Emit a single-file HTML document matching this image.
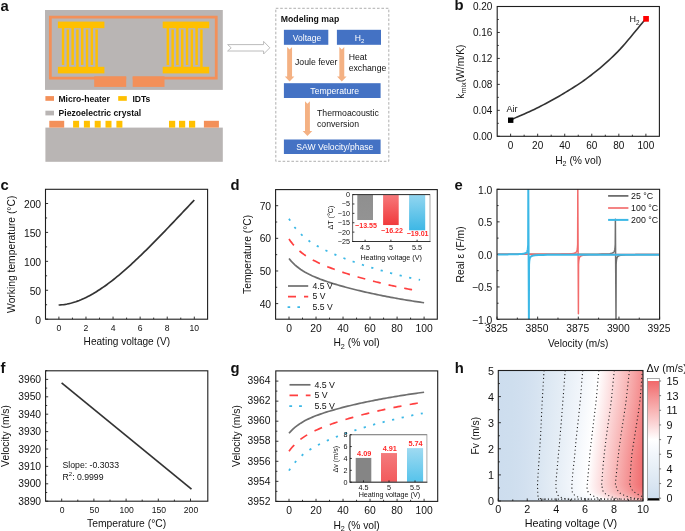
<!DOCTYPE html>
<html><head><meta charset="utf-8"><style>
html,body{margin:0;padding:0;background:#fff;}
body{width:685px;height:531px;overflow:hidden;}
svg{display:block;font-family:"Liberation Sans", sans-serif;}
svg{will-change:transform;}
</style></head><body>
<svg width="685" height="531" viewBox="0 0 685 531">
<rect width="685" height="531" fill="#fff"/>
<rect x="45" y="10" width="177.8" height="79.9" fill="#b9b5b4"/>
<path d="M126.2 78.2 L50.35 78.2 L50.35 17.2 L216.25 17.2 L216.25 78.2 L132.7 78.2" fill="none" stroke="#f39059" stroke-width="2.8"/>
<rect x="94.2" y="76.3" width="32" height="10.6" fill="#f39059"/>
<rect x="132.7" y="76.3" width="31.8" height="10.6" fill="#f39059"/>
<rect x="57.9" y="21.6" width="46.5" height="6.6" fill="#ffc000"/>
<rect x="57.9" y="66.8" width="46.5" height="6.6" fill="#ffc000"/>
<rect x="61.8" y="28" width="2.45" height="37" fill="#ffc000"/>
<rect x="66.6" y="29.5" width="2.45" height="37.5" fill="#ffc000"/>
<rect x="71.4" y="28" width="2.45" height="37" fill="#ffc000"/>
<rect x="76.2" y="29.5" width="2.45" height="37.5" fill="#ffc000"/>
<rect x="81" y="28" width="2.45" height="37" fill="#ffc000"/>
<rect x="85.8" y="29.5" width="2.45" height="37.5" fill="#ffc000"/>
<rect x="90.6" y="28" width="2.45" height="37" fill="#ffc000"/>
<rect x="95.4" y="29.5" width="2.45" height="37.5" fill="#ffc000"/>
<rect x="162.7" y="21.6" width="46.5" height="6.6" fill="#ffc000"/>
<rect x="162.7" y="66.8" width="46.5" height="6.6" fill="#ffc000"/>
<rect x="166.6" y="28" width="2.45" height="37" fill="#ffc000"/>
<rect x="171.4" y="29.5" width="2.45" height="37.5" fill="#ffc000"/>
<rect x="176.2" y="28" width="2.45" height="37" fill="#ffc000"/>
<rect x="181" y="29.5" width="2.45" height="37.5" fill="#ffc000"/>
<rect x="185.8" y="28" width="2.45" height="37" fill="#ffc000"/>
<rect x="190.6" y="29.5" width="2.45" height="37.5" fill="#ffc000"/>
<rect x="195.4" y="28" width="2.45" height="37" fill="#ffc000"/>
<rect x="200.2" y="29.5" width="2.45" height="37.5" fill="#ffc000"/>
<rect x="45.4" y="96.1" width="8.6" height="4.7" fill="#f39059"/>
<text x="58.4" y="101.5" font-size="8.6" text-anchor="start" font-weight="bold" fill="#111">Micro-heater</text>
<rect x="118.2" y="96.1" width="8.6" height="4.7" fill="#ffc000"/>
<text x="132.4" y="101.5" font-size="8.6" text-anchor="start" font-weight="bold" fill="#111">IDTs</text>
<rect x="45.4" y="110.7" width="8.6" height="4.7" fill="#b9b5b4"/>
<text x="58.6" y="116.2" font-size="8.6" text-anchor="start" font-weight="bold" fill="#111">Piezoelectric crystal</text>
<rect x="45.4" y="127.6" width="177.4" height="34.2" fill="#b9b5b4"/>
<rect x="49.3" y="120.8" width="14.9" height="6.8" fill="#f39059"/>
<rect x="203.9" y="120.8" width="15" height="6.8" fill="#f39059"/>
<rect x="73.1" y="120.8" width="6" height="6.8" fill="#ffc000"/>
<rect x="83.9" y="120.8" width="6" height="6.8" fill="#ffc000"/>
<rect x="94.7" y="120.8" width="6" height="6.8" fill="#ffc000"/>
<rect x="105.5" y="120.8" width="6" height="6.8" fill="#ffc000"/>
<rect x="116.4" y="120.8" width="6" height="6.8" fill="#ffc000"/>
<rect x="169" y="120.8" width="6.2" height="6.8" fill="#ffc000"/>
<rect x="179" y="120.8" width="6.2" height="6.8" fill="#ffc000"/>
<rect x="189" y="120.8" width="6.2" height="6.8" fill="#ffc000"/>
<path d="M227.6 44.6 L263.6 44.6 L263.6 41.4 L269.8 47.8 L263.6 54 L263.6 51 L227.6 51 L231.2 47.8 Z" fill="#fff" stroke="#b4b4b4" stroke-width="0.9"/>
<rect x="275.8" y="8.3" width="113" height="153" fill="none" stroke="#9a9a9a" stroke-width="0.8" stroke-dasharray="2.6 1.8"/>
<text x="280.8" y="21.7" font-size="8.7" text-anchor="start" font-weight="bold" fill="#111">Modeling map</text>
<rect x="283.9" y="29.8" width="44.4" height="15" fill="#4472c4"/>
<rect x="336.9" y="29.8" width="44.1" height="15" fill="#4472c4"/>
<rect x="283.9" y="83.2" width="96.7" height="14.8" fill="#4472c4"/>
<rect x="283.9" y="139.5" width="96.7" height="14.5" fill="#4472c4"/>
<text x="307" y="41" font-size="8.5" text-anchor="middle" fill="#fff">Voltage</text>
<text x="359.5" y="41" font-size="8.6" text-anchor="middle" fill="#fff">H<tspan font-size="6" dy="2">2</tspan></text>
<text x="334.7" y="94.2" font-size="8.7" text-anchor="middle" fill="#fff">Temperature</text>
<text x="334.8" y="150.3" font-size="8.6" text-anchor="middle" fill="#fff">SAW Velocity/phase</text>
<path d="M287.15 47 L289.6 49.6 L292.05 47 L292.05 76.6 L294.4 76.6 L289.6 81.6 L284.8 76.6 L287.15 76.6 L287.15 47 Z" fill="#f4b183"/>
<path d="M339.35 47 L341.8 49.6 L344.25 47 L344.25 76.6 L346.6 76.6 L341.8 81.6 L337 76.6 L339.35 76.6 L339.35 47 Z" fill="#f4b183"/>
<path d="M305 101.2 L307.45 103.8 L309.9 101.2 L309.9 131 L312.25 131 L307.45 136 L302.65 131 L305 131 L305 101.2 Z" fill="#f4b183"/>
<text x="295" y="65" font-size="8.7" text-anchor="start" fill="#111">Joule fever</text>
<text x="348.7" y="59.8" font-size="8.7" text-anchor="start" fill="#111">Heat</text>
<text x="348.7" y="70.6" font-size="8.7" text-anchor="start" fill="#111">exchange</text>
<text x="317" y="116.4" font-size="8.7" text-anchor="start" fill="#111">Thermoacoustic</text>
<text x="317" y="126.8" font-size="8.7" text-anchor="start" fill="#111">conversion</text>
<text x="0.5" y="10.7" font-size="14.8" text-anchor="start" font-weight="bold" fill="#111">a</text>
<text x="454.4" y="10.2" font-size="14.8" text-anchor="start" font-weight="bold" fill="#111">b</text>
<rect x="497.2" y="6.5" width="162.2" height="129.8" fill="none" stroke="#1e1e1e" stroke-width="1.1"/>
<line x1="510.6" y1="136.3" x2="510.6" y2="133.7" stroke="#1e1e1e" stroke-width="0.9"/>
<line x1="537.66" y1="136.3" x2="537.66" y2="133.7" stroke="#1e1e1e" stroke-width="0.9"/>
<line x1="564.72" y1="136.3" x2="564.72" y2="133.7" stroke="#1e1e1e" stroke-width="0.9"/>
<line x1="591.78" y1="136.3" x2="591.78" y2="133.7" stroke="#1e1e1e" stroke-width="0.9"/>
<line x1="618.84" y1="136.3" x2="618.84" y2="133.7" stroke="#1e1e1e" stroke-width="0.9"/>
<line x1="645.9" y1="136.3" x2="645.9" y2="133.7" stroke="#1e1e1e" stroke-width="0.9"/>
<line x1="524.13" y1="136.3" x2="524.13" y2="134.7" stroke="#1e1e1e" stroke-width="0.9"/>
<line x1="551.19" y1="136.3" x2="551.19" y2="134.7" stroke="#1e1e1e" stroke-width="0.9"/>
<line x1="578.25" y1="136.3" x2="578.25" y2="134.7" stroke="#1e1e1e" stroke-width="0.9"/>
<line x1="605.31" y1="136.3" x2="605.31" y2="134.7" stroke="#1e1e1e" stroke-width="0.9"/>
<line x1="632.37" y1="136.3" x2="632.37" y2="134.7" stroke="#1e1e1e" stroke-width="0.9"/>
<line x1="497.2" y1="136.3" x2="499.8" y2="136.3" stroke="#1e1e1e" stroke-width="0.9"/>
<line x1="497.2" y1="110.34" x2="499.8" y2="110.34" stroke="#1e1e1e" stroke-width="0.9"/>
<line x1="497.2" y1="84.38" x2="499.8" y2="84.38" stroke="#1e1e1e" stroke-width="0.9"/>
<line x1="497.2" y1="58.42" x2="499.8" y2="58.42" stroke="#1e1e1e" stroke-width="0.9"/>
<line x1="497.2" y1="32.46" x2="499.8" y2="32.46" stroke="#1e1e1e" stroke-width="0.9"/>
<line x1="497.2" y1="6.5" x2="499.8" y2="6.5" stroke="#1e1e1e" stroke-width="0.9"/>
<line x1="497.2" y1="123.32" x2="498.8" y2="123.32" stroke="#1e1e1e" stroke-width="0.9"/>
<line x1="497.2" y1="97.36" x2="498.8" y2="97.36" stroke="#1e1e1e" stroke-width="0.9"/>
<line x1="497.2" y1="71.4" x2="498.8" y2="71.4" stroke="#1e1e1e" stroke-width="0.9"/>
<line x1="497.2" y1="45.44" x2="498.8" y2="45.44" stroke="#1e1e1e" stroke-width="0.9"/>
<line x1="497.2" y1="19.48" x2="498.8" y2="19.48" stroke="#1e1e1e" stroke-width="0.9"/>
<text x="492.4" y="139.8" font-size="10" text-anchor="end" fill="#111">0.00</text>
<text x="492.4" y="113.84" font-size="10" text-anchor="end" fill="#111">0.04</text>
<text x="492.4" y="87.88" font-size="10" text-anchor="end" fill="#111">0.08</text>
<text x="492.4" y="61.92" font-size="10" text-anchor="end" fill="#111">0.12</text>
<text x="492.4" y="35.96" font-size="10" text-anchor="end" fill="#111">0.16</text>
<text x="492.4" y="10" font-size="10" text-anchor="end" fill="#111">0.20</text>
<text x="510.6" y="148.6" font-size="10" text-anchor="middle" fill="#111">0</text>
<text x="537.66" y="148.6" font-size="10" text-anchor="middle" fill="#111">20</text>
<text x="564.72" y="148.6" font-size="10" text-anchor="middle" fill="#111">40</text>
<text x="591.78" y="148.6" font-size="10" text-anchor="middle" fill="#111">60</text>
<text x="618.84" y="148.6" font-size="10" text-anchor="middle" fill="#111">80</text>
<text x="645.9" y="148.6" font-size="10" text-anchor="middle" fill="#111">100</text>
<text x="578.3" y="164" font-size="10.3" text-anchor="middle" fill="#111">H<tspan font-size="7.2" dy="2.3">2</tspan><tspan dy="-2.3"> (% vol)</tspan></text>
<text x="463.6" y="71.6" font-size="10.3" text-anchor="middle" fill="#111" transform="rotate(-90 463.6 71.6)">k<tspan font-size="7.2" dy="2.3">mix</tspan><tspan dy="-2.3">(W/m/K)</tspan></text>
<path d="M510.6 119.9 L511.85 119.35 L513.4 118.68 L515.23 117.89 L517.27 117.01 L519.49 116.05 L521.86 115.03 L524.31 113.95 L526.82 112.83 L529.33 111.7 L531.81 110.55 L534.22 109.42 L536.5 108.3 L538.72 107.19 L540.95 106.06 L543.19 104.9 L545.44 103.72 L547.71 102.52 L549.97 101.3 L552.25 100.06 L554.52 98.79 L556.8 97.5 L559.07 96.19 L561.34 94.86 L563.6 93.5 L565.86 92.13 L568.12 90.75 L570.38 89.36 L572.63 87.96 L574.89 86.53 L577.15 85.07 L579.41 83.58 L581.67 82.06 L583.93 80.49 L586.18 78.88 L588.44 77.22 L590.7 75.5 L592.96 73.74 L595.22 71.95 L597.47 70.13 L599.73 68.27 L601.99 66.37 L604.24 64.42 L606.5 62.43 L608.76 60.39 L611.02 58.28 L613.28 56.12 L615.54 53.89 L617.8 51.6 L620.15 49.12 L622.64 46.37 L625.23 43.42 L627.87 40.35 L630.5 37.22 L633.09 34.11 L635.59 31.07 L637.94 28.2 L640.11 25.54 L642.04 23.18 L643.69 21.17 L645 19.6" fill="none" stroke="#333" stroke-width="1.6"/>
<rect x="508" y="117.5" width="5.4" height="5.4" fill="#000"/>
<rect x="643.2" y="16" width="5.7" height="5.7" fill="#ff0000"/>
<text x="506.6" y="112.2" font-size="9" text-anchor="start" fill="#111">Air</text>
<text x="629.6" y="22.1" font-size="9" text-anchor="start" fill="#111">H<tspan font-size="6.3" dy="2.7">2</tspan></text>
<text x="0.5" y="190" font-size="14.8" text-anchor="start" font-weight="bold" fill="#111">c</text>
<rect x="45.5" y="189.3" width="162.1" height="129.9" fill="none" stroke="#1e1e1e" stroke-width="1.1"/>
<line x1="58.9" y1="319.2" x2="58.9" y2="316.6" stroke="#1e1e1e" stroke-width="0.9"/>
<line x1="85.98" y1="319.2" x2="85.98" y2="316.6" stroke="#1e1e1e" stroke-width="0.9"/>
<line x1="113.06" y1="319.2" x2="113.06" y2="316.6" stroke="#1e1e1e" stroke-width="0.9"/>
<line x1="140.14" y1="319.2" x2="140.14" y2="316.6" stroke="#1e1e1e" stroke-width="0.9"/>
<line x1="167.22" y1="319.2" x2="167.22" y2="316.6" stroke="#1e1e1e" stroke-width="0.9"/>
<line x1="194.3" y1="319.2" x2="194.3" y2="316.6" stroke="#1e1e1e" stroke-width="0.9"/>
<line x1="72.44" y1="319.2" x2="72.44" y2="317.6" stroke="#1e1e1e" stroke-width="0.9"/>
<line x1="99.52" y1="319.2" x2="99.52" y2="317.6" stroke="#1e1e1e" stroke-width="0.9"/>
<line x1="126.6" y1="319.2" x2="126.6" y2="317.6" stroke="#1e1e1e" stroke-width="0.9"/>
<line x1="153.68" y1="319.2" x2="153.68" y2="317.6" stroke="#1e1e1e" stroke-width="0.9"/>
<line x1="180.76" y1="319.2" x2="180.76" y2="317.6" stroke="#1e1e1e" stroke-width="0.9"/>
<line x1="45.5" y1="319.2" x2="48.1" y2="319.2" stroke="#1e1e1e" stroke-width="0.9"/>
<line x1="45.5" y1="290.27" x2="48.1" y2="290.27" stroke="#1e1e1e" stroke-width="0.9"/>
<line x1="45.5" y1="261.35" x2="48.1" y2="261.35" stroke="#1e1e1e" stroke-width="0.9"/>
<line x1="45.5" y1="232.42" x2="48.1" y2="232.42" stroke="#1e1e1e" stroke-width="0.9"/>
<line x1="45.5" y1="203.5" x2="48.1" y2="203.5" stroke="#1e1e1e" stroke-width="0.9"/>
<line x1="45.5" y1="304.74" x2="47.1" y2="304.74" stroke="#1e1e1e" stroke-width="0.9"/>
<line x1="45.5" y1="275.81" x2="47.1" y2="275.81" stroke="#1e1e1e" stroke-width="0.9"/>
<line x1="45.5" y1="246.89" x2="47.1" y2="246.89" stroke="#1e1e1e" stroke-width="0.9"/>
<line x1="45.5" y1="217.96" x2="47.1" y2="217.96" stroke="#1e1e1e" stroke-width="0.9"/>
<text x="41.1" y="323.5" font-size="10.3" text-anchor="end" fill="#111">0</text>
<text x="41.1" y="294.57" font-size="10.3" text-anchor="end" fill="#111">50</text>
<text x="41.1" y="265.65" font-size="10.3" text-anchor="end" fill="#111">100</text>
<text x="41.1" y="236.72" font-size="10.3" text-anchor="end" fill="#111">150</text>
<text x="41.1" y="207.8" font-size="10.3" text-anchor="end" fill="#111">200</text>
<text x="58.9" y="330.9" font-size="8.6" text-anchor="middle" fill="#111">0</text>
<text x="85.98" y="330.9" font-size="8.6" text-anchor="middle" fill="#111">2</text>
<text x="113.06" y="330.9" font-size="8.6" text-anchor="middle" fill="#111">4</text>
<text x="140.14" y="330.9" font-size="8.6" text-anchor="middle" fill="#111">6</text>
<text x="167.22" y="330.9" font-size="8.6" text-anchor="middle" fill="#111">8</text>
<text x="194.3" y="330.9" font-size="8.6" text-anchor="middle" fill="#111">10</text>
<text x="126.8" y="344.9" font-size="10.1" text-anchor="middle" fill="#111">Heating voltage (V)</text>
<text x="15.4" y="254.3" font-size="10.3" text-anchor="middle" fill="#111" transform="rotate(-90 15.4 254.3)">Working temperature (°C)</text>
<path d="M58.63 304.99 L60.35 304.91 L62.06 304.76 L63.78 304.56 L65.5 304.31 L67.22 304 L68.93 303.64 L70.65 303.23 L72.37 302.77 L74.09 302.25 L75.8 301.7 L77.52 301.09 L79.24 300.44 L80.95 299.75 L82.67 299.01 L84.39 298.23 L86.11 297.4 L87.82 296.54 L89.54 295.64 L91.26 294.7 L92.98 293.73 L94.69 292.71 L96.41 291.67 L98.13 290.59 L99.85 289.47 L101.56 288.32 L103.28 287.15 L105 285.94 L106.72 284.7 L108.43 283.43 L110.15 282.14 L111.87 280.82 L113.58 279.47 L115.3 278.1 L117.02 276.71 L118.74 275.29 L120.45 273.85 L122.17 272.38 L123.89 270.9 L125.61 269.4 L127.32 267.87 L129.04 266.33 L130.76 264.77 L132.48 263.19 L134.19 261.6 L135.91 259.99 L137.63 258.36 L139.34 256.73 L141.06 255.07 L142.78 253.41 L144.5 251.73 L146.21 250.04 L147.93 248.34 L149.65 246.62 L151.37 244.9 L153.08 243.17 L154.8 241.43 L156.52 239.68 L158.24 237.92 L159.95 236.16 L161.67 234.38 L163.39 232.61 L165.11 230.82 L166.82 229.03 L168.54 227.24 L170.26 225.44 L171.97 223.64 L173.69 221.83 L175.41 220.02 L177.13 218.21 L178.84 216.39 L180.56 214.58 L182.28 212.76 L184 210.94 L185.71 209.12 L187.43 207.3 L189.15 205.47 L190.87 203.65 L192.58 201.83 L194.3 200.01" fill="none" stroke="#333" stroke-width="1.7"/>
<text x="230.6" y="190.2" font-size="14.8" text-anchor="start" font-weight="bold" fill="#111">d</text>
<rect x="275.6" y="189.6" width="161.7" height="129.6" fill="none" stroke="#1e1e1e" stroke-width="1.1"/>
<line x1="289" y1="319.2" x2="289" y2="316.6" stroke="#1e1e1e" stroke-width="0.9"/>
<line x1="316.02" y1="319.2" x2="316.02" y2="316.6" stroke="#1e1e1e" stroke-width="0.9"/>
<line x1="343.04" y1="319.2" x2="343.04" y2="316.6" stroke="#1e1e1e" stroke-width="0.9"/>
<line x1="370.06" y1="319.2" x2="370.06" y2="316.6" stroke="#1e1e1e" stroke-width="0.9"/>
<line x1="397.08" y1="319.2" x2="397.08" y2="316.6" stroke="#1e1e1e" stroke-width="0.9"/>
<line x1="424.1" y1="319.2" x2="424.1" y2="316.6" stroke="#1e1e1e" stroke-width="0.9"/>
<line x1="302.51" y1="319.2" x2="302.51" y2="317.6" stroke="#1e1e1e" stroke-width="0.9"/>
<line x1="329.53" y1="319.2" x2="329.53" y2="317.6" stroke="#1e1e1e" stroke-width="0.9"/>
<line x1="356.55" y1="319.2" x2="356.55" y2="317.6" stroke="#1e1e1e" stroke-width="0.9"/>
<line x1="383.57" y1="319.2" x2="383.57" y2="317.6" stroke="#1e1e1e" stroke-width="0.9"/>
<line x1="410.59" y1="319.2" x2="410.59" y2="317.6" stroke="#1e1e1e" stroke-width="0.9"/>
<line x1="275.6" y1="303.6" x2="278.2" y2="303.6" stroke="#1e1e1e" stroke-width="0.9"/>
<line x1="275.6" y1="270.97" x2="278.2" y2="270.97" stroke="#1e1e1e" stroke-width="0.9"/>
<line x1="275.6" y1="238.33" x2="278.2" y2="238.33" stroke="#1e1e1e" stroke-width="0.9"/>
<line x1="275.6" y1="205.7" x2="278.2" y2="205.7" stroke="#1e1e1e" stroke-width="0.9"/>
<line x1="275.6" y1="287.28" x2="277.2" y2="287.28" stroke="#1e1e1e" stroke-width="0.9"/>
<line x1="275.6" y1="254.65" x2="277.2" y2="254.65" stroke="#1e1e1e" stroke-width="0.9"/>
<line x1="275.6" y1="222.02" x2="277.2" y2="222.02" stroke="#1e1e1e" stroke-width="0.9"/>
<text x="271.1" y="307.7" font-size="10.3" text-anchor="end" fill="#111">40</text>
<text x="271.1" y="275.07" font-size="10.3" text-anchor="end" fill="#111">50</text>
<text x="271.1" y="242.43" font-size="10.3" text-anchor="end" fill="#111">60</text>
<text x="271.1" y="209.8" font-size="10.3" text-anchor="end" fill="#111">70</text>
<text x="289" y="331.6" font-size="10.3" text-anchor="middle" fill="#111">0</text>
<text x="316.02" y="331.6" font-size="10.3" text-anchor="middle" fill="#111">20</text>
<text x="343.04" y="331.6" font-size="10.3" text-anchor="middle" fill="#111">40</text>
<text x="370.06" y="331.6" font-size="10.3" text-anchor="middle" fill="#111">60</text>
<text x="397.08" y="331.6" font-size="10.3" text-anchor="middle" fill="#111">80</text>
<text x="424.1" y="331.6" font-size="10.3" text-anchor="middle" fill="#111">100</text>
<text x="356.6" y="346.2" font-size="10.3" text-anchor="middle" fill="#111">H<tspan font-size="7.2" dy="2.3">2</tspan><tspan dy="-2.3"> (% vol)</tspan></text>
<text x="251.5" y="254.4" font-size="10.3" text-anchor="middle" fill="#111" transform="rotate(-90 251.5 254.4)">Temperature (°C)</text>
<path d="M289 258.57 L290.96 260.89 L292.92 262.96 L294.87 264.82 L296.83 266.5 L298.79 268.03 L300.75 269.43 L302.71 270.72 L304.66 271.9 L306.62 273.01 L308.58 274.04 L310.54 275.01 L312.5 275.93 L314.45 276.79 L316.41 277.62 L318.37 278.41 L320.33 279.17 L322.29 279.9 L324.24 280.6 L326.2 281.28 L328.16 281.94 L330.12 282.58 L332.08 283.21 L334.03 283.82 L335.99 284.41 L337.95 284.99 L339.91 285.56 L341.87 286.12 L343.82 286.66 L345.78 287.2 L347.74 287.72 L349.7 288.24 L351.66 288.74 L353.61 289.24 L355.57 289.73 L357.53 290.21 L359.49 290.68 L361.44 291.15 L363.4 291.6 L365.36 292.05 L367.32 292.5 L369.28 292.93 L371.23 293.36 L373.19 293.79 L375.15 294.2 L377.11 294.61 L379.07 295.02 L381.02 295.41 L382.98 295.8 L384.94 296.19 L386.9 296.57 L388.86 296.94 L390.81 297.31 L392.77 297.67 L394.73 298.03 L396.69 298.38 L398.65 298.73 L400.6 299.07 L402.56 299.41 L404.52 299.74 L406.48 300.06 L408.44 300.38 L410.39 300.7 L412.35 301.01 L414.31 301.32 L416.27 301.62 L418.23 301.92 L420.18 302.21 L422.14 302.5 L424.1 302.78" fill="none" stroke="#6e6e6e" stroke-width="1.7"/>
<path d="M289 238.99 L290.86 241.63 L292.72 244.01 L294.58 246.15 L296.44 248.1 L298.3 249.88 L300.16 251.51 L302.02 253.01 L303.88 254.4 L305.74 255.69 L307.6 256.9 L309.46 258.04 L311.32 259.12 L313.18 260.14 L315.04 261.11 L316.9 262.04 L318.76 262.93 L320.62 263.78 L322.48 264.61 L324.34 265.4 L326.2 266.18 L328.06 266.93 L329.92 267.66 L331.78 268.37 L333.64 269.07 L335.5 269.75 L337.36 270.41 L339.22 271.06 L341.08 271.7 L342.94 272.32 L344.8 272.94 L346.66 273.54 L348.52 274.13 L350.38 274.72 L352.24 275.29 L354.1 275.85 L355.96 276.4 L357.82 276.95 L359.68 277.49 L361.54 278.01 L363.4 278.53 L365.26 279.05 L367.12 279.55 L368.98 280.05 L370.84 280.54 L372.7 281.02 L374.56 281.5 L376.42 281.96 L378.28 282.43 L380.14 282.88 L382 283.33 L383.86 283.77 L385.72 284.21 L387.58 284.63 L389.44 285.06 L391.3 285.47 L393.16 285.89 L395.02 286.29 L396.88 286.69 L398.74 287.08 L400.6 287.47 L402.46 287.85 L404.32 288.23 L406.18 288.6 L408.04 288.97 L409.9 289.33 L411.76 289.68 L413.62 290.03 L415.48 290.38 L417.35 290.72" fill="none" stroke="#ff4040" stroke-width="1.7" stroke-dasharray="8 8"/>
<path d="M289 218.75 L290.9 221.92 L292.8 224.75 L294.7 227.31 L296.6 229.62 L298.5 231.73 L300.4 233.66 L302.29 235.43 L304.19 237.08 L306.09 238.61 L307.99 240.04 L309.89 241.39 L311.79 242.66 L313.69 243.86 L315.59 245.01 L317.49 246.1 L319.39 247.15 L321.29 248.16 L323.19 249.14 L325.09 250.08 L326.98 251 L328.88 251.88 L330.78 252.75 L332.68 253.59 L334.58 254.41 L336.48 255.22 L338.38 256 L340.28 256.77 L342.18 257.53 L344.08 258.27 L345.98 258.99 L347.88 259.71 L349.78 260.41 L351.67 261.1 L353.57 261.77 L355.47 262.44 L357.37 263.09 L359.27 263.74 L361.17 264.37 L363.07 265 L364.97 265.61 L366.87 266.22 L368.77 266.81 L370.67 267.4 L372.57 267.98 L374.47 268.55 L376.36 269.11 L378.26 269.66 L380.16 270.2 L382.06 270.74 L383.96 271.27 L385.86 271.79 L387.76 272.3 L389.66 272.81 L391.56 273.3 L393.46 273.8 L395.36 274.28 L397.26 274.76 L399.16 275.22 L401.05 275.69 L402.95 276.14 L404.85 276.59 L406.75 277.03 L408.65 277.47 L410.55 277.9 L412.45 278.32 L414.35 278.74 L416.25 279.15 L418.15 279.56 L420.05 279.96" fill="none" stroke="#3cb8e6" stroke-width="1.8" stroke-dasharray="2.2 7.6"/>
<line x1="288" y1="286" x2="308.2" y2="286" stroke="#6e6e6e" stroke-width="1.7"/>
<line x1="288" y1="296.6" x2="308.2" y2="296.6" stroke="#ff4040" stroke-width="1.7" stroke-dasharray="8 8"/>
<line x1="287.6" y1="307.2" x2="300" y2="307.2" stroke="#3cb8e6" stroke-width="1.8" stroke-dasharray="2.6 7.2"/>
<text x="312.6" y="288.6" font-size="8.6" text-anchor="start" fill="#111">4.5 V</text>
<text x="312.6" y="299.3" font-size="8.6" text-anchor="start" fill="#111">5 V</text>
<text x="312.6" y="309.9" font-size="8.6" text-anchor="start" fill="#111">5.5 V</text>
<defs><linearGradient id="gg" x1="0" y1="0" x2="0" y2="1"><stop offset="0" stop-color="#8f8f8f"/><stop offset="1" stop-color="#939393"/></linearGradient><linearGradient id="gr" x1="0" y1="0" x2="0" y2="1"><stop offset="0" stop-color="#f7797b"/><stop offset="1" stop-color="#f03a3c"/></linearGradient><linearGradient id="gb" x1="0" y1="0" x2="0" y2="1"><stop offset="0" stop-color="#93d6f0"/><stop offset="1" stop-color="#3db7e5"/></linearGradient><linearGradient id="gr2" x1="0" y1="0" x2="0" y2="1"><stop offset="0" stop-color="#f47a7c"/><stop offset="1" stop-color="#f25a5c"/></linearGradient><linearGradient id="gb2" x1="0" y1="0" x2="0" y2="1"><stop offset="0" stop-color="#9fdaf1"/><stop offset="1" stop-color="#55c3eb"/></linearGradient></defs>
<rect x="352.6" y="194.6" width="77.4" height="46.9" fill="#fff"/>
<rect x="357.3" y="194.6" width="15.7" height="25.42" fill="url(#gg)"/>
<rect x="383.1" y="194.6" width="15.6" height="30.43" fill="url(#gr)"/>
<rect x="409.1" y="194.6" width="16.1" height="35.66" fill="url(#gb)"/>
<rect x="352.6" y="194.6" width="77.4" height="46.9" fill="none" stroke="#a0a0a0" stroke-width="0.9"/>
<line x1="352.6" y1="194.6" x2="430" y2="194.6" stroke="#333" stroke-width="1"/>
<line x1="352.6" y1="194.6" x2="352.6" y2="241.5" stroke="#666" stroke-width="0.9"/>
<line x1="352.15" y1="241.5" x2="430.45" y2="241.5" stroke="#333" stroke-width="1"/>
<line x1="352.6" y1="194.6" x2="354.4" y2="194.6" stroke="#1e1e1e" stroke-width="0.9"/>
<line x1="352.6" y1="203.98" x2="354.4" y2="203.98" stroke="#1e1e1e" stroke-width="0.9"/>
<line x1="352.6" y1="213.36" x2="354.4" y2="213.36" stroke="#1e1e1e" stroke-width="0.9"/>
<line x1="352.6" y1="222.74" x2="354.4" y2="222.74" stroke="#1e1e1e" stroke-width="0.9"/>
<line x1="352.6" y1="232.12" x2="354.4" y2="232.12" stroke="#1e1e1e" stroke-width="0.9"/>
<line x1="352.6" y1="241.5" x2="354.4" y2="241.5" stroke="#1e1e1e" stroke-width="0.9"/>
<text x="349.9" y="197.1" font-size="7.2" text-anchor="end" fill="#111">0</text>
<text x="349.9" y="206.48" font-size="7.2" text-anchor="end" fill="#111">−5</text>
<text x="349.9" y="215.86" font-size="7.2" text-anchor="end" fill="#111">−10</text>
<text x="349.9" y="225.24" font-size="7.2" text-anchor="end" fill="#111">−15</text>
<text x="349.9" y="234.62" font-size="7.2" text-anchor="end" fill="#111">−20</text>
<text x="349.9" y="244" font-size="7.2" text-anchor="end" fill="#111">−25</text>
<line x1="365.1" y1="241.5" x2="365.1" y2="239.7" stroke="#1e1e1e" stroke-width="0.9"/>
<line x1="390.9" y1="241.5" x2="390.9" y2="239.7" stroke="#1e1e1e" stroke-width="0.9"/>
<line x1="417.1" y1="241.5" x2="417.1" y2="239.7" stroke="#1e1e1e" stroke-width="0.9"/>
<text x="365.1" y="249.8" font-size="7.2" text-anchor="middle" fill="#111">4.5</text>
<text x="390.9" y="249.8" font-size="7.2" text-anchor="middle" fill="#111">5</text>
<text x="417.1" y="249.8" font-size="7.2" text-anchor="middle" fill="#111">5.5</text>
<text x="391.2" y="259.6" font-size="7.2" text-anchor="middle" fill="#111">Heating voltage (V)</text>
<text x="333" y="217.5" font-size="7.2" text-anchor="middle" fill="#111" transform="rotate(-90 333 217.5)">ΔT (°C)</text>
<text x="366" y="227.6" font-size="7.1" text-anchor="middle" font-weight="bold" fill="#ff2a2a">−13.55</text>
<text x="392" y="232.7" font-size="7.1" text-anchor="middle" font-weight="bold" fill="#ff2a2a">−16.22</text>
<text x="417.6" y="236.4" font-size="7.1" text-anchor="middle" font-weight="bold" fill="#ff2a2a">−19.01</text>
<text x="454.4" y="190" font-size="14.8" text-anchor="start" font-weight="bold" fill="#111">e</text>
<line x1="497" y1="319.5" x2="499.6" y2="319.5" stroke="#1e1e1e" stroke-width="0.9"/>
<line x1="497" y1="286.95" x2="499.6" y2="286.95" stroke="#1e1e1e" stroke-width="0.9"/>
<line x1="497" y1="254.4" x2="499.6" y2="254.4" stroke="#1e1e1e" stroke-width="0.9"/>
<line x1="497" y1="221.85" x2="499.6" y2="221.85" stroke="#1e1e1e" stroke-width="0.9"/>
<line x1="497" y1="189.3" x2="499.6" y2="189.3" stroke="#1e1e1e" stroke-width="0.9"/>
<line x1="497" y1="303.23" x2="498.6" y2="303.23" stroke="#1e1e1e" stroke-width="0.9"/>
<line x1="497" y1="270.68" x2="498.6" y2="270.68" stroke="#1e1e1e" stroke-width="0.9"/>
<line x1="497" y1="238.12" x2="498.6" y2="238.12" stroke="#1e1e1e" stroke-width="0.9"/>
<line x1="497" y1="205.58" x2="498.6" y2="205.58" stroke="#1e1e1e" stroke-width="0.9"/>
<line x1="497" y1="319.2" x2="497" y2="316.6" stroke="#1e1e1e" stroke-width="0.9"/>
<line x1="537.65" y1="319.2" x2="537.65" y2="316.6" stroke="#1e1e1e" stroke-width="0.9"/>
<line x1="578.3" y1="319.2" x2="578.3" y2="316.6" stroke="#1e1e1e" stroke-width="0.9"/>
<line x1="618.95" y1="319.2" x2="618.95" y2="316.6" stroke="#1e1e1e" stroke-width="0.9"/>
<line x1="659.6" y1="319.2" x2="659.6" y2="316.6" stroke="#1e1e1e" stroke-width="0.9"/>
<line x1="517.33" y1="319.2" x2="517.33" y2="317.6" stroke="#1e1e1e" stroke-width="0.9"/>
<line x1="557.98" y1="319.2" x2="557.98" y2="317.6" stroke="#1e1e1e" stroke-width="0.9"/>
<line x1="598.62" y1="319.2" x2="598.62" y2="317.6" stroke="#1e1e1e" stroke-width="0.9"/>
<line x1="639.27" y1="319.2" x2="639.27" y2="317.6" stroke="#1e1e1e" stroke-width="0.9"/>
<text x="492.3" y="323.7" font-size="10.3" text-anchor="end" fill="#111">−1.0</text>
<text x="492.3" y="291.15" font-size="10.3" text-anchor="end" fill="#111">−0.5</text>
<text x="492.3" y="258.6" font-size="10.3" text-anchor="end" fill="#111">0.0</text>
<text x="492.3" y="226.05" font-size="10.3" text-anchor="end" fill="#111">0.5</text>
<text x="492.3" y="193.5" font-size="10.3" text-anchor="end" fill="#111">1.0</text>
<text x="496.4" y="331.5" font-size="10.3" text-anchor="middle" fill="#111">3825</text>
<text x="537.05" y="331.5" font-size="10.3" text-anchor="middle" fill="#111">3850</text>
<text x="577.7" y="331.5" font-size="10.3" text-anchor="middle" fill="#111">3875</text>
<text x="618.35" y="331.5" font-size="10.3" text-anchor="middle" fill="#111">3900</text>
<text x="659" y="331.5" font-size="10.3" text-anchor="middle" fill="#111">3925</text>
<text x="578.2" y="346.7" font-size="10.1" text-anchor="middle" fill="#111">Velocity (m/s)</text>
<text x="464.2" y="254.4" font-size="10.3" text-anchor="middle" fill="#111" transform="rotate(-90 464.2 254.4)">Real ε (F/m)</text>
<clipPath id="ce"><rect x="497" y="189.3" width="162.6" height="129.9"/></clipPath>
<g clip-path="url(#ce)">
<path d="M497.6 254.36 L501.47 254.36 L505.33 254.36 L509.2 254.36 L513.06 254.36 L516.93 254.35 L520.79 254.35 L524.66 254.35 L528.52 254.35 L532.39 254.35 L536.26 254.34 L540.12 254.34 L543.99 254.34 L547.85 254.33 L551.72 254.33 L555.58 254.33 L559.45 254.32 L563.31 254.31 L567.18 254.31 L571.04 254.3 L574.91 254.29 L578.78 254.28 L582.64 254.26 L586.51 254.25 L590.37 254.22 L594.24 254.19 L598.1 254.14 L601.97 254.07 L605.83 253.94 L609.7 253.65 L609.7 253.65 L609.93 253.62 L610.16 253.59 L610.39 253.55 L610.62 253.51 L610.86 253.47 L611.09 253.42 L611.32 253.37 L611.55 253.32 L611.78 253.25 L612.01 253.18 L612.24 253.1 L612.48 253 L612.71 252.9 L612.94 252.77 L613.17 252.62 L613.4 252.44 L613.63 252.22 L613.86 251.95 L614.09 251.6 L614.33 251.13 L614.56 250.47 L614.79 249.47 L615.02 247.79 L615.25 244.4 L615.4 219.2 L616 321 L616.15 264.4 L616.38 261.01 L616.61 259.33 L616.84 258.33 L617.08 257.67 L617.31 257.2 L617.54 256.85 L617.77 256.58 L618 256.36 L618.23 256.18 L618.46 256.03 L618.69 255.9 L618.93 255.8 L619.16 255.7 L619.39 255.62 L619.62 255.55 L619.85 255.48 L620.08 255.43 L620.31 255.38 L620.54 255.33 L620.78 255.29 L621.01 255.25 L621.24 255.21 L621.47 255.18 L621.7 255.15 L621.7 255.15 L622.99 255.02 L624.27 254.92 L625.56 254.86 L626.84 254.8 L628.13 254.76 L629.42 254.73 L630.7 254.7 L631.99 254.68 L633.28 254.66 L634.56 254.64 L635.85 254.62 L637.13 254.61 L638.42 254.6 L639.71 254.59 L640.99 254.58 L642.28 254.57 L643.57 254.56 L644.85 254.55 L646.14 254.55 L647.42 254.54 L648.71 254.54 L650 254.53 L651.28 254.53 L652.57 254.52 L653.86 254.52 L655.14 254.51 L656.43 254.51 L657.71 254.51 L659 254.5" fill="none" stroke="#6e6e6e" stroke-width="1.5" stroke-linejoin="round"/>
<path d="M497.6 254.34 L500.17 254.34 L502.74 254.34 L505.31 254.34 L507.88 254.34 L510.44 254.33 L513.01 254.33 L515.58 254.33 L518.15 254.32 L520.72 254.32 L523.29 254.32 L525.86 254.31 L528.43 254.31 L531 254.3 L533.57 254.3 L536.13 254.29 L538.7 254.29 L541.27 254.28 L543.84 254.27 L546.41 254.26 L548.98 254.25 L551.55 254.23 L554.12 254.21 L556.69 254.19 L559.26 254.16 L561.82 254.12 L564.39 254.07 L566.96 254 L569.53 253.87 L572.1 253.65 L572.1 253.65 L572.33 253.62 L572.56 253.59 L572.79 253.55 L573.02 253.51 L573.26 253.47 L573.49 253.42 L573.72 253.37 L573.95 253.32 L574.18 253.25 L574.41 253.18 L574.64 253.1 L574.88 253 L575.11 252.9 L575.34 252.77 L575.57 252.62 L575.8 252.44 L576.03 252.22 L576.26 251.95 L576.49 251.6 L576.73 251.13 L576.96 250.47 L577.19 249.47 L577.42 247.79 L577.65 244.4 L577.8 187 L578.4 313.7 L578.55 264.4 L578.78 261.01 L579.01 259.33 L579.24 258.33 L579.48 257.67 L579.71 257.2 L579.94 256.85 L580.17 256.58 L580.4 256.36 L580.63 256.18 L580.86 256.03 L581.09 255.9 L581.33 255.8 L581.56 255.7 L581.79 255.62 L582.02 255.55 L582.25 255.48 L582.48 255.43 L582.71 255.38 L582.94 255.33 L583.18 255.29 L583.41 255.25 L583.64 255.21 L583.87 255.18 L584.1 255.15 L584.1 255.15 L586.68 254.92 L589.27 254.8 L591.85 254.73 L594.43 254.68 L597.01 254.64 L599.6 254.61 L602.18 254.59 L604.76 254.57 L607.34 254.55 L609.93 254.54 L612.51 254.53 L615.09 254.52 L617.68 254.51 L620.26 254.51 L622.84 254.5 L625.42 254.5 L628.01 254.49 L630.59 254.49 L633.17 254.48 L635.76 254.48 L638.34 254.47 L640.92 254.47 L643.5 254.47 L646.09 254.47 L648.67 254.46 L651.25 254.46 L653.83 254.46 L656.42 254.46 L659 254.46" fill="none" stroke="#f26b6b" stroke-width="1.5" stroke-linejoin="round"/>
<path d="M497.6 254.45 L498.46 254.45 L499.32 254.45 L500.19 254.44 L501.05 254.44 L501.91 254.43 L502.77 254.43 L503.63 254.42 L504.5 254.41 L505.36 254.41 L506.22 254.4 L507.08 254.39 L507.94 254.38 L508.81 254.37 L509.67 254.36 L510.53 254.35 L511.39 254.34 L512.26 254.32 L513.12 254.31 L513.98 254.29 L514.84 254.27 L515.7 254.25 L516.57 254.23 L517.43 254.2 L518.29 254.16 L519.15 254.12 L520.01 254.08 L520.88 254.02 L521.74 253.94 L522.6 253.85 L522.6 253.85 L522.83 253.82 L523.06 253.79 L523.29 253.75 L523.52 253.71 L523.76 253.67 L523.99 253.62 L524.22 253.57 L524.45 253.52 L524.68 253.45 L524.91 253.38 L525.14 253.3 L525.38 253.2 L525.61 253.1 L525.84 252.97 L526.07 252.82 L526.3 252.64 L526.53 252.42 L526.76 252.15 L526.99 251.8 L527.23 251.33 L527.46 250.67 L527.69 249.67 L527.92 247.99 L528.15 244.6 L528.3 187 L528.9 321 L529.05 264.6 L529.28 261.21 L529.51 259.53 L529.74 258.53 L529.98 257.87 L530.21 257.4 L530.44 257.05 L530.67 256.78 L530.9 256.56 L531.13 256.38 L531.36 256.23 L531.59 256.1 L531.83 256 L532.06 255.9 L532.29 255.82 L532.52 255.75 L532.75 255.68 L532.98 255.63 L533.21 255.58 L533.44 255.53 L533.68 255.49 L533.91 255.45 L534.14 255.41 L534.37 255.38 L534.6 255.35 L534.6 255.35 L538.89 255.04 L543.18 254.91 L547.47 254.84 L551.76 254.79 L556.05 254.76 L560.34 254.74 L564.63 254.72 L568.92 254.71 L573.21 254.7 L577.5 254.69 L581.79 254.68 L586.08 254.68 L590.37 254.67 L594.66 254.67 L598.94 254.66 L603.23 254.66 L607.52 254.66 L611.81 254.65 L616.1 254.65 L620.39 254.65 L624.68 254.65 L628.97 254.64 L633.26 254.64 L637.55 254.64 L641.84 254.64 L646.13 254.64 L650.42 254.64 L654.71 254.64 L659 254.63" fill="none" stroke="#3cb8e6" stroke-width="2" stroke-linejoin="round"/>
</g>
<rect x="497" y="189.3" width="162.6" height="129.9" fill="none" stroke="#1e1e1e" stroke-width="1.1"/>
<line x1="608.1" y1="195.9" x2="628.4" y2="195.9" stroke="#6e6e6e" stroke-width="1.8"/>
<line x1="608.1" y1="208" x2="628.4" y2="208" stroke="#f37676" stroke-width="1.8"/>
<line x1="608.1" y1="219.9" x2="628.4" y2="219.9" stroke="#3cb8e6" stroke-width="2"/>
<text x="631.1" y="198.9" font-size="8.8" text-anchor="start" fill="#111">25 °C</text>
<text x="631.1" y="210.5" font-size="8.8" text-anchor="start" fill="#111">100 °C</text>
<text x="631.1" y="222.9" font-size="8.8" text-anchor="start" fill="#111">200 °C</text>
<text x="0.5" y="373.2" font-size="14.8" text-anchor="start" font-weight="bold" fill="#111">f</text>
<rect x="45.6" y="370.8" width="162.2" height="130.4" fill="none" stroke="#1e1e1e" stroke-width="1.1"/>
<line x1="61.7" y1="501.2" x2="61.7" y2="498.6" stroke="#1e1e1e" stroke-width="0.9"/>
<line x1="93.9" y1="501.2" x2="93.9" y2="498.6" stroke="#1e1e1e" stroke-width="0.9"/>
<line x1="126.1" y1="501.2" x2="126.1" y2="498.6" stroke="#1e1e1e" stroke-width="0.9"/>
<line x1="158.3" y1="501.2" x2="158.3" y2="498.6" stroke="#1e1e1e" stroke-width="0.9"/>
<line x1="190.5" y1="501.2" x2="190.5" y2="498.6" stroke="#1e1e1e" stroke-width="0.9"/>
<line x1="77.8" y1="501.2" x2="77.8" y2="499.6" stroke="#1e1e1e" stroke-width="0.9"/>
<line x1="110" y1="501.2" x2="110" y2="499.6" stroke="#1e1e1e" stroke-width="0.9"/>
<line x1="142.2" y1="501.2" x2="142.2" y2="499.6" stroke="#1e1e1e" stroke-width="0.9"/>
<line x1="174.4" y1="501.2" x2="174.4" y2="499.6" stroke="#1e1e1e" stroke-width="0.9"/>
<line x1="45.6" y1="501.2" x2="48.2" y2="501.2" stroke="#1e1e1e" stroke-width="0.9"/>
<line x1="45.6" y1="483.8" x2="48.2" y2="483.8" stroke="#1e1e1e" stroke-width="0.9"/>
<line x1="45.6" y1="466.4" x2="48.2" y2="466.4" stroke="#1e1e1e" stroke-width="0.9"/>
<line x1="45.6" y1="449" x2="48.2" y2="449" stroke="#1e1e1e" stroke-width="0.9"/>
<line x1="45.6" y1="431.6" x2="48.2" y2="431.6" stroke="#1e1e1e" stroke-width="0.9"/>
<line x1="45.6" y1="414.2" x2="48.2" y2="414.2" stroke="#1e1e1e" stroke-width="0.9"/>
<line x1="45.6" y1="396.8" x2="48.2" y2="396.8" stroke="#1e1e1e" stroke-width="0.9"/>
<line x1="45.6" y1="379.4" x2="48.2" y2="379.4" stroke="#1e1e1e" stroke-width="0.9"/>
<line x1="45.6" y1="492.5" x2="47.2" y2="492.5" stroke="#1e1e1e" stroke-width="0.9"/>
<line x1="45.6" y1="475.1" x2="47.2" y2="475.1" stroke="#1e1e1e" stroke-width="0.9"/>
<line x1="45.6" y1="457.7" x2="47.2" y2="457.7" stroke="#1e1e1e" stroke-width="0.9"/>
<line x1="45.6" y1="440.3" x2="47.2" y2="440.3" stroke="#1e1e1e" stroke-width="0.9"/>
<line x1="45.6" y1="422.9" x2="47.2" y2="422.9" stroke="#1e1e1e" stroke-width="0.9"/>
<line x1="45.6" y1="405.5" x2="47.2" y2="405.5" stroke="#1e1e1e" stroke-width="0.9"/>
<line x1="45.6" y1="388.1" x2="47.2" y2="388.1" stroke="#1e1e1e" stroke-width="0.9"/>
<line x1="45.6" y1="370.7" x2="47.2" y2="370.7" stroke="#1e1e1e" stroke-width="0.9"/>
<text x="41.1" y="504.8" font-size="10.3" text-anchor="end" fill="#111">3890</text>
<text x="41.1" y="487.4" font-size="10.3" text-anchor="end" fill="#111">3900</text>
<text x="41.1" y="470" font-size="10.3" text-anchor="end" fill="#111">3910</text>
<text x="41.1" y="452.6" font-size="10.3" text-anchor="end" fill="#111">3920</text>
<text x="41.1" y="435.2" font-size="10.3" text-anchor="end" fill="#111">3930</text>
<text x="41.1" y="417.8" font-size="10.3" text-anchor="end" fill="#111">3940</text>
<text x="41.1" y="400.4" font-size="10.3" text-anchor="end" fill="#111">3950</text>
<text x="41.1" y="383" font-size="10.3" text-anchor="end" fill="#111">3960</text>
<text x="62.2" y="512.8" font-size="8.6" text-anchor="middle" fill="#111">0</text>
<text x="94.4" y="512.8" font-size="8.6" text-anchor="middle" fill="#111">50</text>
<text x="126.6" y="512.8" font-size="8.6" text-anchor="middle" fill="#111">100</text>
<text x="158.8" y="512.8" font-size="8.6" text-anchor="middle" fill="#111">150</text>
<text x="191" y="512.8" font-size="8.6" text-anchor="middle" fill="#111">200</text>
<text x="126.6" y="527.2" font-size="10.3" text-anchor="middle" fill="#111">Temperature (°C)</text>
<text x="9.4" y="436" font-size="10.3" text-anchor="middle" fill="#111" transform="rotate(-90 9.4 436)">Velocity (m/s)</text>
<line x1="61.6" y1="382.9" x2="191.5" y2="489.2" stroke="#333" stroke-width="1.7"/>
<text x="62.5" y="467.8" font-size="8.7" text-anchor="start" fill="#111">Slope: -0.3033</text>
<text x="62.5" y="479.6" font-size="8.7" text-anchor="start" fill="#111">R<tspan font-size="6" dy="-3.4">2</tspan><tspan dy="3.4">: 0.9999</tspan></text>
<text x="230.6" y="373.1" font-size="14.8" text-anchor="start" font-weight="bold" fill="#111">g</text>
<rect x="275.8" y="370.9" width="161.9" height="130.5" fill="none" stroke="#1e1e1e" stroke-width="1.1"/>
<line x1="289" y1="501.4" x2="289" y2="498.8" stroke="#1e1e1e" stroke-width="0.9"/>
<line x1="316.02" y1="501.4" x2="316.02" y2="498.8" stroke="#1e1e1e" stroke-width="0.9"/>
<line x1="343.04" y1="501.4" x2="343.04" y2="498.8" stroke="#1e1e1e" stroke-width="0.9"/>
<line x1="370.06" y1="501.4" x2="370.06" y2="498.8" stroke="#1e1e1e" stroke-width="0.9"/>
<line x1="397.08" y1="501.4" x2="397.08" y2="498.8" stroke="#1e1e1e" stroke-width="0.9"/>
<line x1="424.1" y1="501.4" x2="424.1" y2="498.8" stroke="#1e1e1e" stroke-width="0.9"/>
<line x1="302.51" y1="501.4" x2="302.51" y2="499.8" stroke="#1e1e1e" stroke-width="0.9"/>
<line x1="329.53" y1="501.4" x2="329.53" y2="499.8" stroke="#1e1e1e" stroke-width="0.9"/>
<line x1="356.55" y1="501.4" x2="356.55" y2="499.8" stroke="#1e1e1e" stroke-width="0.9"/>
<line x1="383.57" y1="501.4" x2="383.57" y2="499.8" stroke="#1e1e1e" stroke-width="0.9"/>
<line x1="410.59" y1="501.4" x2="410.59" y2="499.8" stroke="#1e1e1e" stroke-width="0.9"/>
<line x1="275.8" y1="501.4" x2="278.4" y2="501.4" stroke="#1e1e1e" stroke-width="0.9"/>
<line x1="275.8" y1="481.35" x2="278.4" y2="481.35" stroke="#1e1e1e" stroke-width="0.9"/>
<line x1="275.8" y1="461.3" x2="278.4" y2="461.3" stroke="#1e1e1e" stroke-width="0.9"/>
<line x1="275.8" y1="441.25" x2="278.4" y2="441.25" stroke="#1e1e1e" stroke-width="0.9"/>
<line x1="275.8" y1="421.2" x2="278.4" y2="421.2" stroke="#1e1e1e" stroke-width="0.9"/>
<line x1="275.8" y1="401.15" x2="278.4" y2="401.15" stroke="#1e1e1e" stroke-width="0.9"/>
<line x1="275.8" y1="381.1" x2="278.4" y2="381.1" stroke="#1e1e1e" stroke-width="0.9"/>
<line x1="275.8" y1="491.38" x2="277.4" y2="491.38" stroke="#1e1e1e" stroke-width="0.9"/>
<line x1="275.8" y1="471.33" x2="277.4" y2="471.33" stroke="#1e1e1e" stroke-width="0.9"/>
<line x1="275.8" y1="451.28" x2="277.4" y2="451.28" stroke="#1e1e1e" stroke-width="0.9"/>
<line x1="275.8" y1="431.23" x2="277.4" y2="431.23" stroke="#1e1e1e" stroke-width="0.9"/>
<line x1="275.8" y1="411.18" x2="277.4" y2="411.18" stroke="#1e1e1e" stroke-width="0.9"/>
<line x1="275.8" y1="391.12" x2="277.4" y2="391.12" stroke="#1e1e1e" stroke-width="0.9"/>
<text x="270.5" y="504.6" font-size="10.3" text-anchor="end" fill="#111">3952</text>
<text x="270.5" y="484.55" font-size="10.3" text-anchor="end" fill="#111">3954</text>
<text x="270.5" y="464.5" font-size="10.3" text-anchor="end" fill="#111">3956</text>
<text x="270.5" y="444.45" font-size="10.3" text-anchor="end" fill="#111">3958</text>
<text x="270.5" y="424.4" font-size="10.3" text-anchor="end" fill="#111">3960</text>
<text x="270.5" y="404.35" font-size="10.3" text-anchor="end" fill="#111">3962</text>
<text x="270.5" y="384.3" font-size="10.3" text-anchor="end" fill="#111">3964</text>
<text x="289" y="513.5" font-size="10.3" text-anchor="middle" fill="#111">0</text>
<text x="316.02" y="513.5" font-size="10.3" text-anchor="middle" fill="#111">20</text>
<text x="343.04" y="513.5" font-size="10.3" text-anchor="middle" fill="#111">40</text>
<text x="370.06" y="513.5" font-size="10.3" text-anchor="middle" fill="#111">60</text>
<text x="397.08" y="513.5" font-size="10.3" text-anchor="middle" fill="#111">80</text>
<text x="424.1" y="513.5" font-size="10.3" text-anchor="middle" fill="#111">100</text>
<text x="356.6" y="528.8" font-size="10.3" text-anchor="middle" fill="#111">H<tspan font-size="7.2" dy="2.3">2</tspan><tspan dy="-2.3"> (% vol)</tspan></text>
<text x="239.5" y="436" font-size="10.3" text-anchor="middle" fill="#111" transform="rotate(-90 239.5 436)">Velocity (m/s)</text>
<path d="M289 433.23 L290.96 431.08 L292.92 429.16 L294.87 427.43 L296.83 425.87 L298.79 424.45 L300.75 423.15 L302.71 421.96 L304.66 420.86 L306.62 419.84 L308.58 418.88 L310.54 417.98 L312.5 417.13 L314.45 416.33 L316.41 415.56 L318.37 414.83 L320.33 414.13 L322.29 413.45 L324.24 412.8 L326.2 412.17 L328.16 411.55 L330.12 410.96 L332.08 410.38 L334.03 409.82 L335.99 409.27 L337.95 408.73 L339.91 408.2 L341.87 407.68 L343.82 407.18 L345.78 406.68 L347.74 406.2 L349.7 405.72 L351.66 405.25 L353.61 404.79 L355.57 404.33 L357.53 403.89 L359.49 403.45 L361.44 403.02 L363.4 402.59 L365.36 402.18 L367.32 401.77 L369.28 401.36 L371.23 400.96 L373.19 400.57 L375.15 400.19 L377.11 399.81 L379.07 399.43 L381.02 399.06 L382.98 398.7 L384.94 398.34 L386.9 397.99 L388.86 397.64 L390.81 397.3 L392.77 396.97 L394.73 396.64 L396.69 396.31 L398.65 395.99 L400.6 395.67 L402.56 395.36 L404.52 395.05 L406.48 394.75 L408.44 394.45 L410.39 394.16 L412.35 393.87 L414.31 393.59 L416.27 393.31 L418.23 393.03 L420.18 392.76 L422.14 392.49 L424.1 392.23" fill="none" stroke="#6e6e6e" stroke-width="1.7"/>
<path d="M289 451.28 L290.88 448.79 L292.76 446.56 L294.64 444.55 L296.52 442.73 L298.4 441.06 L300.28 439.54 L302.16 438.14 L304.04 436.84 L305.92 435.63 L307.8 434.5 L309.68 433.44 L311.56 432.43 L313.44 431.48 L315.32 430.57 L317.19 429.71 L319.07 428.88 L320.95 428.08 L322.83 427.31 L324.71 426.56 L326.59 425.84 L328.47 425.14 L330.35 424.45 L332.23 423.79 L334.11 423.14 L335.99 422.51 L337.87 421.88 L339.75 421.28 L341.63 420.68 L343.51 420.1 L345.39 419.52 L347.27 418.96 L349.15 418.41 L351.03 417.86 L352.91 417.33 L354.79 416.8 L356.67 416.29 L358.55 415.78 L360.43 415.27 L362.31 414.78 L364.19 414.3 L366.07 413.82 L367.95 413.35 L369.83 412.88 L371.7 412.43 L373.58 411.98 L375.46 411.53 L377.34 411.09 L379.22 410.66 L381.1 410.24 L382.98 409.82 L384.86 409.41 L386.74 409 L388.62 408.6 L390.5 408.21 L392.38 407.82 L394.26 407.44 L396.14 407.06 L398.02 406.69 L399.9 406.32 L401.78 405.96 L403.66 405.61 L405.54 405.26 L407.42 404.91 L409.3 404.57 L411.18 404.23 L413.06 403.9 L414.94 403.58 L416.82 403.25 L418.7 402.94" fill="none" stroke="#ff4040" stroke-width="1.7" stroke-dasharray="8.2 8.3"/>
<path d="M289 470.62 L290.94 467.63 L292.88 464.96 L294.82 462.55 L296.75 460.38 L298.69 458.4 L300.63 456.59 L302.57 454.92 L304.51 453.38 L306.45 451.95 L308.38 450.61 L310.32 449.36 L312.26 448.17 L314.2 447.05 L316.14 445.97 L318.08 444.95 L320.01 443.97 L321.95 443.02 L323.89 442.11 L325.83 441.23 L327.77 440.37 L329.71 439.54 L331.64 438.73 L333.58 437.94 L335.52 437.17 L337.46 436.42 L339.4 435.69 L341.34 434.97 L343.27 434.26 L345.21 433.57 L347.15 432.89 L349.09 432.22 L351.03 431.56 L352.97 430.92 L354.91 430.29 L356.84 429.66 L358.78 429.05 L360.72 428.45 L362.66 427.85 L364.6 427.27 L366.54 426.7 L368.47 426.13 L370.41 425.57 L372.35 425.02 L374.29 424.48 L376.23 423.95 L378.17 423.43 L380.1 422.91 L382.04 422.41 L383.98 421.91 L385.92 421.41 L387.86 420.93 L389.8 420.45 L391.73 419.98 L393.67 419.52 L395.61 419.06 L397.55 418.61 L399.49 418.17 L401.43 417.73 L403.37 417.3 L405.3 416.88 L407.24 416.46 L409.18 416.05 L411.12 415.64 L413.06 415.24 L415 414.85 L416.93 414.46 L418.87 414.08 L420.81 413.7 L422.75 413.33" fill="none" stroke="#3cb8e6" stroke-width="1.8" stroke-dasharray="2.2 7.6"/>
<line x1="289.5" y1="384.8" x2="310.5" y2="384.8" stroke="#6e6e6e" stroke-width="1.7"/>
<line x1="289.5" y1="395.4" x2="310.5" y2="395.4" stroke="#ff4040" stroke-width="1.7" stroke-dasharray="8.5 7.8"/>
<line x1="289.3" y1="406.1" x2="302.2" y2="406.1" stroke="#3cb8e6" stroke-width="1.8" stroke-dasharray="2.8 7"/>
<text x="314.4" y="387.6" font-size="8.8" text-anchor="start" fill="#111">4.5 V</text>
<text x="314.4" y="398.3" font-size="8.8" text-anchor="start" fill="#111">5 V</text>
<text x="314.4" y="409" font-size="8.8" text-anchor="start" fill="#111">5.5 V</text>
<rect x="350" y="434.7" width="76.9" height="47.5" fill="#fff"/>
<rect x="355.7" y="457.92" width="15.6" height="24.28" fill="#858585"/>
<rect x="381" y="453.05" width="16" height="29.15" fill="url(#gr2)"/>
<rect x="407" y="448.12" width="16.1" height="34.08" fill="url(#gb2)"/>
<rect x="350" y="434.7" width="76.9" height="47.5" fill="none" stroke="#a0a0a0" stroke-width="0.9"/>
<line x1="350" y1="434.7" x2="426.9" y2="434.7" stroke="#808080" stroke-width="0.9"/>
<line x1="350" y1="434.7" x2="350" y2="482.2" stroke="#333" stroke-width="1"/>
<line x1="349.55" y1="482.2" x2="427.35" y2="482.2" stroke="#333" stroke-width="1"/>
<line x1="350" y1="482.2" x2="351.8" y2="482.2" stroke="#1e1e1e" stroke-width="0.9"/>
<line x1="350" y1="470.32" x2="351.8" y2="470.32" stroke="#1e1e1e" stroke-width="0.9"/>
<line x1="350" y1="458.45" x2="351.8" y2="458.45" stroke="#1e1e1e" stroke-width="0.9"/>
<line x1="350" y1="446.57" x2="351.8" y2="446.57" stroke="#1e1e1e" stroke-width="0.9"/>
<line x1="350" y1="434.7" x2="351.8" y2="434.7" stroke="#1e1e1e" stroke-width="0.9"/>
<text x="347.6" y="484.7" font-size="7.2" text-anchor="end" fill="#111">0</text>
<text x="347.6" y="472.82" font-size="7.2" text-anchor="end" fill="#111">2</text>
<text x="347.6" y="460.95" font-size="7.2" text-anchor="end" fill="#111">4</text>
<text x="347.6" y="449.07" font-size="7.2" text-anchor="end" fill="#111">6</text>
<text x="347.6" y="437.2" font-size="7.2" text-anchor="end" fill="#111">8</text>
<line x1="363.5" y1="482.2" x2="363.5" y2="480.4" stroke="#1e1e1e" stroke-width="0.9"/>
<line x1="389" y1="482.2" x2="389" y2="480.4" stroke="#1e1e1e" stroke-width="0.9"/>
<line x1="415" y1="482.2" x2="415" y2="480.4" stroke="#1e1e1e" stroke-width="0.9"/>
<text x="363.5" y="490.1" font-size="7.2" text-anchor="middle" fill="#111">4.5</text>
<text x="389" y="490.1" font-size="7.2" text-anchor="middle" fill="#111">5</text>
<text x="415" y="490.1" font-size="7.2" text-anchor="middle" fill="#111">5.5</text>
<text x="389.4" y="497.2" font-size="7.2" text-anchor="middle" fill="#111">Heating voltage (V)</text>
<text x="337.9" y="459.2" font-size="7.2" text-anchor="middle" fill="#111" transform="rotate(-90 337.9 459.2)">Δv (m/s)</text>
<text x="364.2" y="455.7" font-size="7.3" text-anchor="middle" font-weight="bold" fill="#ff2a2a">4.09</text>
<text x="389.8" y="451" font-size="7.3" text-anchor="middle" font-weight="bold" fill="#ff2a2a">4.91</text>
<text x="415.5" y="445.7" font-size="7.3" text-anchor="middle" font-weight="bold" fill="#ff2a2a">5.74</text>
<text x="454.8" y="372.8" font-size="14.8" text-anchor="start" font-weight="bold" fill="#111">h</text>
<defs><linearGradient id="h0"><stop offset="0.0000" stop-color="#cdddee"/><stop offset="0.0947" stop-color="#cedeee"/><stop offset="0.1578" stop-color="#d0dfef"/><stop offset="0.2209" stop-color="#d3e1f0"/><stop offset="0.2683" stop-color="#d6e3f1"/><stop offset="0.3156" stop-color="#dae6f2"/><stop offset="0.4615" stop-color="#e6eef6"/><stop offset="0.5830" stop-color="#f2f6fb"/><stop offset="0.6943" stop-color="#ffffff"/><stop offset="0.8007" stop-color="#fcd9da"/><stop offset="0.9056" stop-color="#f8b4b4"/><stop offset="0.9962" stop-color="#f48e8f"/><stop offset="1.0000" stop-color="#f48c8e"/></linearGradient><linearGradient id="h1"><stop offset="0.0000" stop-color="#cdddee"/><stop offset="0.0945" stop-color="#cedeee"/><stop offset="0.1574" stop-color="#d0dfef"/><stop offset="0.2204" stop-color="#d3e1f0"/><stop offset="0.2677" stop-color="#d6e3f1"/><stop offset="0.3149" stop-color="#dae6f2"/><stop offset="0.4607" stop-color="#e6eef6"/><stop offset="0.5819" stop-color="#f2f6fb"/><stop offset="0.6931" stop-color="#ffffff"/><stop offset="0.7996" stop-color="#fcd9da"/><stop offset="0.9041" stop-color="#f8b4b4"/><stop offset="0.9947" stop-color="#f48e8f"/><stop offset="1.0000" stop-color="#f48c8d"/></linearGradient><linearGradient id="h2"><stop offset="0.0000" stop-color="#cdddee"/><stop offset="0.0942" stop-color="#cedeee"/><stop offset="0.1571" stop-color="#d0dfef"/><stop offset="0.2199" stop-color="#d3e1f0"/><stop offset="0.2670" stop-color="#d6e3f1"/><stop offset="0.3141" stop-color="#dae6f2"/><stop offset="0.4598" stop-color="#e6eef6"/><stop offset="0.5808" stop-color="#f2f6fb"/><stop offset="0.6920" stop-color="#ffffff"/><stop offset="0.7983" stop-color="#fcd9da"/><stop offset="0.9026" stop-color="#f8b4b4"/><stop offset="0.9933" stop-color="#f48e8f"/><stop offset="1.0000" stop-color="#f48b8d"/></linearGradient><linearGradient id="h3"><stop offset="0.0000" stop-color="#cdddee"/><stop offset="0.0940" stop-color="#cedeee"/><stop offset="0.1567" stop-color="#d0dfef"/><stop offset="0.2193" stop-color="#d3e1f0"/><stop offset="0.2663" stop-color="#d6e3f1"/><stop offset="0.3133" stop-color="#dae6f2"/><stop offset="0.4588" stop-color="#e6eef6"/><stop offset="0.5796" stop-color="#f2f6fb"/><stop offset="0.6907" stop-color="#ffffff"/><stop offset="0.7969" stop-color="#fcd9da"/><stop offset="0.9011" stop-color="#f8b4b4"/><stop offset="0.9921" stop-color="#f48e8f"/><stop offset="1.0000" stop-color="#f48a8c"/></linearGradient><linearGradient id="h4"><stop offset="0.0000" stop-color="#cdddee"/><stop offset="0.0938" stop-color="#cedeee"/><stop offset="0.1563" stop-color="#d0dfef"/><stop offset="0.2188" stop-color="#d3e1f0"/><stop offset="0.2656" stop-color="#d6e3f1"/><stop offset="0.3125" stop-color="#dae6f2"/><stop offset="0.4578" stop-color="#e6eef6"/><stop offset="0.5785" stop-color="#f2f6fb"/><stop offset="0.6894" stop-color="#ffffff"/><stop offset="0.7955" stop-color="#fcd9da"/><stop offset="0.8995" stop-color="#f8b4b4"/><stop offset="0.9910" stop-color="#f48e8f"/><stop offset="1.0000" stop-color="#f48a8c"/></linearGradient><linearGradient id="h5"><stop offset="0.0000" stop-color="#cdddee"/><stop offset="0.0935" stop-color="#cedeee"/><stop offset="0.1559" stop-color="#d0dfef"/><stop offset="0.2182" stop-color="#d3e1f0"/><stop offset="0.2650" stop-color="#d6e3f1"/><stop offset="0.3117" stop-color="#dae6f2"/><stop offset="0.4567" stop-color="#e6eef6"/><stop offset="0.5774" stop-color="#f2f6fb"/><stop offset="0.6882" stop-color="#ffffff"/><stop offset="0.7941" stop-color="#fcd9da"/><stop offset="0.8980" stop-color="#f8b4b4"/><stop offset="0.9898" stop-color="#f48e8f"/><stop offset="1.0000" stop-color="#f48a8b"/></linearGradient><linearGradient id="h6"><stop offset="0.0000" stop-color="#cdddee"/><stop offset="0.0933" stop-color="#cedeee"/><stop offset="0.1555" stop-color="#d0dfef"/><stop offset="0.2176" stop-color="#d3e1f0"/><stop offset="0.2643" stop-color="#d6e3f1"/><stop offset="0.3109" stop-color="#dae6f2"/><stop offset="0.4557" stop-color="#e6eef6"/><stop offset="0.5762" stop-color="#f2f6fb"/><stop offset="0.6869" stop-color="#ffffff"/><stop offset="0.7927" stop-color="#fcd9da"/><stop offset="0.8964" stop-color="#f8b4b4"/><stop offset="0.9886" stop-color="#f48e8f"/><stop offset="1.0000" stop-color="#f4898b"/></linearGradient><linearGradient id="h7"><stop offset="0.0000" stop-color="#cdddee"/><stop offset="0.0930" stop-color="#cedeee"/><stop offset="0.1551" stop-color="#d0dfef"/><stop offset="0.2171" stop-color="#d3e1f0"/><stop offset="0.2636" stop-color="#d6e3f1"/><stop offset="0.3101" stop-color="#dae6f2"/><stop offset="0.4547" stop-color="#e6eef6"/><stop offset="0.5751" stop-color="#f2f6fb"/><stop offset="0.6856" stop-color="#ffffff"/><stop offset="0.7913" stop-color="#fcd9da"/><stop offset="0.8949" stop-color="#f8b4b4"/><stop offset="0.9874" stop-color="#f48e8f"/><stop offset="1.0000" stop-color="#f4898a"/></linearGradient><linearGradient id="h8"><stop offset="0.0000" stop-color="#cdddee"/><stop offset="0.0928" stop-color="#cedeee"/><stop offset="0.1547" stop-color="#d0dfef"/><stop offset="0.2165" stop-color="#d3e1f0"/><stop offset="0.2629" stop-color="#d6e3f1"/><stop offset="0.3093" stop-color="#dae6f2"/><stop offset="0.4536" stop-color="#e6eef6"/><stop offset="0.5740" stop-color="#f2f6fb"/><stop offset="0.6843" stop-color="#ffffff"/><stop offset="0.7899" stop-color="#fcd9da"/><stop offset="0.8933" stop-color="#f8b4b4"/><stop offset="0.9863" stop-color="#f48e8f"/><stop offset="1.0000" stop-color="#f4888a"/></linearGradient><linearGradient id="h9"><stop offset="0.0000" stop-color="#cdddee"/><stop offset="0.0926" stop-color="#cedeee"/><stop offset="0.1543" stop-color="#d0dfef"/><stop offset="0.2160" stop-color="#d3e1f0"/><stop offset="0.2623" stop-color="#d6e3f1"/><stop offset="0.3085" stop-color="#dae6f2"/><stop offset="0.4526" stop-color="#e6eef6"/><stop offset="0.5729" stop-color="#f2f6fb"/><stop offset="0.6831" stop-color="#ffffff"/><stop offset="0.7885" stop-color="#fcd9da"/><stop offset="0.8918" stop-color="#f8b4b4"/><stop offset="0.9851" stop-color="#f48e8f"/><stop offset="1.0000" stop-color="#f48889"/></linearGradient><linearGradient id="h10"><stop offset="0.0000" stop-color="#cdddee"/><stop offset="0.0923" stop-color="#cedeee"/><stop offset="0.1539" stop-color="#d0dfef"/><stop offset="0.2154" stop-color="#d3e1f0"/><stop offset="0.2616" stop-color="#d6e3f1"/><stop offset="0.3077" stop-color="#dae6f2"/><stop offset="0.4516" stop-color="#e6eef6"/><stop offset="0.5717" stop-color="#f2f6fb"/><stop offset="0.6818" stop-color="#ffffff"/><stop offset="0.7870" stop-color="#fcd9da"/><stop offset="0.8902" stop-color="#f8b4b4"/><stop offset="0.9839" stop-color="#f48e8f"/><stop offset="1.0000" stop-color="#f48789"/></linearGradient><linearGradient id="h11"><stop offset="0.0000" stop-color="#cdddee"/><stop offset="0.0921" stop-color="#cedeee"/><stop offset="0.1535" stop-color="#d0dfef"/><stop offset="0.2149" stop-color="#d3e1f0"/><stop offset="0.2609" stop-color="#d6e3f1"/><stop offset="0.3069" stop-color="#dae6f2"/><stop offset="0.4505" stop-color="#e6eef6"/><stop offset="0.5706" stop-color="#f2f6fb"/><stop offset="0.6805" stop-color="#ffffff"/><stop offset="0.7856" stop-color="#fcd9da"/><stop offset="0.8887" stop-color="#f8b4b4"/><stop offset="0.9827" stop-color="#f48e8f"/><stop offset="1.0000" stop-color="#f48788"/></linearGradient><linearGradient id="h12"><stop offset="0.0000" stop-color="#cdddee"/><stop offset="0.0918" stop-color="#cedeee"/><stop offset="0.1531" stop-color="#d0dfef"/><stop offset="0.2143" stop-color="#d3e1f0"/><stop offset="0.2602" stop-color="#d6e3f1"/><stop offset="0.3061" stop-color="#dae6f2"/><stop offset="0.4495" stop-color="#e6eef6"/><stop offset="0.5695" stop-color="#f2f6fb"/><stop offset="0.6793" stop-color="#ffffff"/><stop offset="0.7842" stop-color="#fcd9da"/><stop offset="0.8871" stop-color="#f8b4b4"/><stop offset="0.9816" stop-color="#f48e8f"/><stop offset="1.0000" stop-color="#f48688"/></linearGradient><linearGradient id="h13"><stop offset="0.0000" stop-color="#cdddee"/><stop offset="0.0916" stop-color="#cedeee"/><stop offset="0.1527" stop-color="#d0dfef"/><stop offset="0.2137" stop-color="#d3e1f0"/><stop offset="0.2595" stop-color="#d6e3f1"/><stop offset="0.3053" stop-color="#dae6f2"/><stop offset="0.4485" stop-color="#e6eef6"/><stop offset="0.5683" stop-color="#f2f6fb"/><stop offset="0.6780" stop-color="#ffffff"/><stop offset="0.7828" stop-color="#fcd9da"/><stop offset="0.8856" stop-color="#f8b4b4"/><stop offset="0.9804" stop-color="#f48e8f"/><stop offset="1.0000" stop-color="#f48688"/></linearGradient><linearGradient id="h14"><stop offset="0.0000" stop-color="#cdddee"/><stop offset="0.0914" stop-color="#cedeee"/><stop offset="0.1523" stop-color="#d0dfef"/><stop offset="0.2132" stop-color="#d3e1f0"/><stop offset="0.2589" stop-color="#d6e3f1"/><stop offset="0.3045" stop-color="#dae6f2"/><stop offset="0.4474" stop-color="#e6eef6"/><stop offset="0.5672" stop-color="#f2f6fb"/><stop offset="0.6767" stop-color="#ffffff"/><stop offset="0.7814" stop-color="#fcd9da"/><stop offset="0.8840" stop-color="#f8b4b4"/><stop offset="0.9792" stop-color="#f48e8f"/><stop offset="1.0000" stop-color="#f48687"/></linearGradient><linearGradient id="h15"><stop offset="0.0000" stop-color="#cdddee"/><stop offset="0.0911" stop-color="#cedeee"/><stop offset="0.1519" stop-color="#d0dfef"/><stop offset="0.2126" stop-color="#d3e1f0"/><stop offset="0.2582" stop-color="#d6e3f1"/><stop offset="0.3037" stop-color="#dae6f2"/><stop offset="0.4464" stop-color="#e6eef6"/><stop offset="0.5661" stop-color="#f2f6fb"/><stop offset="0.6755" stop-color="#ffffff"/><stop offset="0.7800" stop-color="#fcd9da"/><stop offset="0.8825" stop-color="#f8b4b4"/><stop offset="0.9780" stop-color="#f48e8f"/><stop offset="1.0000" stop-color="#f48587"/></linearGradient><linearGradient id="h16"><stop offset="0.0000" stop-color="#cdddee"/><stop offset="0.0909" stop-color="#cedeee"/><stop offset="0.1515" stop-color="#d0dfef"/><stop offset="0.2121" stop-color="#d3e1f0"/><stop offset="0.2575" stop-color="#d6e3f1"/><stop offset="0.3029" stop-color="#dae6f2"/><stop offset="0.4454" stop-color="#e6eef6"/><stop offset="0.5650" stop-color="#f2f6fb"/><stop offset="0.6742" stop-color="#ffffff"/><stop offset="0.7786" stop-color="#fcd9da"/><stop offset="0.8809" stop-color="#f8b4b4"/><stop offset="0.9769" stop-color="#f48e8f"/><stop offset="1.0000" stop-color="#f48586"/></linearGradient><linearGradient id="h17"><stop offset="0.0000" stop-color="#cdddee"/><stop offset="0.0907" stop-color="#cedeee"/><stop offset="0.1511" stop-color="#d0dfef"/><stop offset="0.2116" stop-color="#d3e1f0"/><stop offset="0.2569" stop-color="#d6e3f1"/><stop offset="0.3022" stop-color="#dae6f2"/><stop offset="0.4443" stop-color="#e6eef6"/><stop offset="0.5636" stop-color="#f2f6fb"/><stop offset="0.6726" stop-color="#ffffff"/><stop offset="0.7768" stop-color="#fcd9da"/><stop offset="0.8790" stop-color="#f8b4b4"/><stop offset="0.9751" stop-color="#f48e8f"/><stop offset="1.0000" stop-color="#f48486"/></linearGradient><linearGradient id="h18"><stop offset="0.0000" stop-color="#cdddee"/><stop offset="0.0905" stop-color="#cedeee"/><stop offset="0.1508" stop-color="#d0dfef"/><stop offset="0.2111" stop-color="#d3e1f0"/><stop offset="0.2563" stop-color="#d6e3f1"/><stop offset="0.3016" stop-color="#dae6f2"/><stop offset="0.4432" stop-color="#e6eef6"/><stop offset="0.5621" stop-color="#f2f6fb"/><stop offset="0.6710" stop-color="#ffffff"/><stop offset="0.7749" stop-color="#fcd9da"/><stop offset="0.8769" stop-color="#f8b4b4"/><stop offset="0.9730" stop-color="#f48e8f"/><stop offset="1.0000" stop-color="#f48385"/></linearGradient><linearGradient id="h19"><stop offset="0.0000" stop-color="#cdddee"/><stop offset="0.0903" stop-color="#cedeee"/><stop offset="0.1505" stop-color="#d0dfef"/><stop offset="0.2106" stop-color="#d3e1f0"/><stop offset="0.2558" stop-color="#d6e3f1"/><stop offset="0.3009" stop-color="#dae6f2"/><stop offset="0.4421" stop-color="#e6eef6"/><stop offset="0.5606" stop-color="#f2f6fb"/><stop offset="0.6693" stop-color="#ffffff"/><stop offset="0.7731" stop-color="#fcd9da"/><stop offset="0.8749" stop-color="#f8b4b4"/><stop offset="0.9709" stop-color="#f48e8f"/><stop offset="1.0000" stop-color="#f38284"/></linearGradient><linearGradient id="h20"><stop offset="0.0000" stop-color="#cdddee"/><stop offset="0.0901" stop-color="#cedeee"/><stop offset="0.1501" stop-color="#d0dfef"/><stop offset="0.2102" stop-color="#d3e1f0"/><stop offset="0.2552" stop-color="#d6e3f1"/><stop offset="0.3003" stop-color="#dae6f2"/><stop offset="0.4410" stop-color="#e6eef6"/><stop offset="0.5591" stop-color="#f2f6fb"/><stop offset="0.6676" stop-color="#ffffff"/><stop offset="0.7712" stop-color="#fcd9da"/><stop offset="0.8728" stop-color="#f8b4b4"/><stop offset="0.9688" stop-color="#f48e8f"/><stop offset="1.0000" stop-color="#f38283"/></linearGradient><linearGradient id="h21"><stop offset="0.0000" stop-color="#cdddee"/><stop offset="0.0899" stop-color="#cedeee"/><stop offset="0.1498" stop-color="#d0dfef"/><stop offset="0.2097" stop-color="#d3e1f0"/><stop offset="0.2547" stop-color="#d6e3f1"/><stop offset="0.2996" stop-color="#dae6f2"/><stop offset="0.4399" stop-color="#e6eef6"/><stop offset="0.5576" stop-color="#f2f6fb"/><stop offset="0.6659" stop-color="#ffffff"/><stop offset="0.7693" stop-color="#fcd9da"/><stop offset="0.8707" stop-color="#f8b4b4"/><stop offset="0.9668" stop-color="#f48e8f"/><stop offset="1.0000" stop-color="#f38182"/></linearGradient><linearGradient id="h22"><stop offset="0.0000" stop-color="#cdddee"/><stop offset="0.0897" stop-color="#cedeee"/><stop offset="0.1495" stop-color="#d0dfef"/><stop offset="0.2093" stop-color="#d3e1f0"/><stop offset="0.2541" stop-color="#d6e3f1"/><stop offset="0.2989" stop-color="#dae6f2"/><stop offset="0.4388" stop-color="#e6eef6"/><stop offset="0.5561" stop-color="#f2f6fb"/><stop offset="0.6643" stop-color="#ffffff"/><stop offset="0.7674" stop-color="#fcd9da"/><stop offset="0.8686" stop-color="#f8b4b4"/><stop offset="0.9647" stop-color="#f48e8f"/><stop offset="1.0000" stop-color="#f38082"/></linearGradient><linearGradient id="h23"><stop offset="0.0000" stop-color="#cdddee"/><stop offset="0.0895" stop-color="#cedeee"/><stop offset="0.1491" stop-color="#d0dfef"/><stop offset="0.2088" stop-color="#d3e1f0"/><stop offset="0.2535" stop-color="#d6e3f1"/><stop offset="0.2983" stop-color="#dae6f2"/><stop offset="0.4377" stop-color="#e6eef6"/><stop offset="0.5546" stop-color="#f2f6fb"/><stop offset="0.6626" stop-color="#ffffff"/><stop offset="0.7655" stop-color="#fcd9da"/><stop offset="0.8666" stop-color="#f8b4b4"/><stop offset="0.9626" stop-color="#f48e8f"/><stop offset="1.0000" stop-color="#f37f81"/></linearGradient><linearGradient id="h24"><stop offset="0.0000" stop-color="#cdddee"/><stop offset="0.0893" stop-color="#cedeee"/><stop offset="0.1488" stop-color="#d0dfef"/><stop offset="0.2083" stop-color="#d3e1f0"/><stop offset="0.2530" stop-color="#d6e3f1"/><stop offset="0.2976" stop-color="#dae6f2"/><stop offset="0.4366" stop-color="#e6eef6"/><stop offset="0.5531" stop-color="#f2f6fb"/><stop offset="0.6609" stop-color="#ffffff"/><stop offset="0.7636" stop-color="#fcd9da"/><stop offset="0.8645" stop-color="#f8b4b4"/><stop offset="0.9606" stop-color="#f48e8f"/><stop offset="1.0000" stop-color="#f37e80"/></linearGradient><linearGradient id="h25"><stop offset="0.0000" stop-color="#cdddee"/><stop offset="0.0891" stop-color="#cedeee"/><stop offset="0.1485" stop-color="#d0dfef"/><stop offset="0.2079" stop-color="#d3e1f0"/><stop offset="0.2524" stop-color="#d6e3f1"/><stop offset="0.2970" stop-color="#dae6f2"/><stop offset="0.4355" stop-color="#e6eef6"/><stop offset="0.5516" stop-color="#f2f6fb"/><stop offset="0.6593" stop-color="#ffffff"/><stop offset="0.7617" stop-color="#fcd9da"/><stop offset="0.8624" stop-color="#f8b4b4"/><stop offset="0.9585" stop-color="#f48e8f"/><stop offset="1.0000" stop-color="#f37d7f"/></linearGradient><linearGradient id="h26"><stop offset="0.0000" stop-color="#cdddee"/><stop offset="0.0889" stop-color="#cedeee"/><stop offset="0.1481" stop-color="#d0dfef"/><stop offset="0.2074" stop-color="#d3e1f0"/><stop offset="0.2518" stop-color="#d6e3f1"/><stop offset="0.2963" stop-color="#dae6f2"/><stop offset="0.4344" stop-color="#e6eef6"/><stop offset="0.5501" stop-color="#f2f6fb"/><stop offset="0.6576" stop-color="#ffffff"/><stop offset="0.7598" stop-color="#fcd9da"/><stop offset="0.8604" stop-color="#f8b4b4"/><stop offset="0.9564" stop-color="#f48e8f"/><stop offset="1.0000" stop-color="#f37d7e"/></linearGradient><linearGradient id="h27"><stop offset="0.0000" stop-color="#cdddee"/><stop offset="0.0887" stop-color="#cedeee"/><stop offset="0.1478" stop-color="#d0dfef"/><stop offset="0.2069" stop-color="#d3e1f0"/><stop offset="0.2513" stop-color="#d6e3f1"/><stop offset="0.2956" stop-color="#dae6f2"/><stop offset="0.4333" stop-color="#e6eef6"/><stop offset="0.5486" stop-color="#f2f6fb"/><stop offset="0.6559" stop-color="#ffffff"/><stop offset="0.7579" stop-color="#fcd9da"/><stop offset="0.8583" stop-color="#f8b4b4"/><stop offset="0.9544" stop-color="#f48e8f"/><stop offset="1.0000" stop-color="#f37c7e"/></linearGradient><linearGradient id="h28"><stop offset="0.0000" stop-color="#cdddee"/><stop offset="0.0885" stop-color="#cedeee"/><stop offset="0.1475" stop-color="#d0dfef"/><stop offset="0.2065" stop-color="#d3e1f0"/><stop offset="0.2507" stop-color="#d6e3f1"/><stop offset="0.2950" stop-color="#dae6f2"/><stop offset="0.4322" stop-color="#e6eef6"/><stop offset="0.5471" stop-color="#f2f6fb"/><stop offset="0.6542" stop-color="#ffffff"/><stop offset="0.7560" stop-color="#fcd9da"/><stop offset="0.8562" stop-color="#f8b4b4"/><stop offset="0.9523" stop-color="#f48e8f"/><stop offset="1.0000" stop-color="#f37b7d"/></linearGradient><linearGradient id="h29"><stop offset="0.0000" stop-color="#cdddee"/><stop offset="0.0883" stop-color="#cedeee"/><stop offset="0.1472" stop-color="#d0dfef"/><stop offset="0.2060" stop-color="#d3e1f0"/><stop offset="0.2502" stop-color="#d6e3f1"/><stop offset="0.2943" stop-color="#dae6f2"/><stop offset="0.4311" stop-color="#e6eef6"/><stop offset="0.5456" stop-color="#f2f6fb"/><stop offset="0.6526" stop-color="#ffffff"/><stop offset="0.7541" stop-color="#fcd9da"/><stop offset="0.8542" stop-color="#f8b4b4"/><stop offset="0.9502" stop-color="#f48e8f"/><stop offset="1.0000" stop-color="#f37a7c"/></linearGradient><linearGradient id="h30"><stop offset="0.0000" stop-color="#cdddee"/><stop offset="0.0881" stop-color="#cedeee"/><stop offset="0.1468" stop-color="#d0dfef"/><stop offset="0.2056" stop-color="#d3e1f0"/><stop offset="0.2496" stop-color="#d6e3f1"/><stop offset="0.2936" stop-color="#dae6f2"/><stop offset="0.4300" stop-color="#e6eef6"/><stop offset="0.5441" stop-color="#f2f6fb"/><stop offset="0.6509" stop-color="#ffffff"/><stop offset="0.7522" stop-color="#fcd9da"/><stop offset="0.8521" stop-color="#f8b4b4"/><stop offset="0.9482" stop-color="#f48e8f"/><stop offset="1.0000" stop-color="#f3797b"/></linearGradient><linearGradient id="h31"><stop offset="0.0000" stop-color="#cdddee"/><stop offset="0.0879" stop-color="#cedeee"/><stop offset="0.1465" stop-color="#d0dfef"/><stop offset="0.2051" stop-color="#d3e1f0"/><stop offset="0.2490" stop-color="#d6e3f1"/><stop offset="0.2930" stop-color="#dae6f2"/><stop offset="0.4289" stop-color="#e6eef6"/><stop offset="0.5426" stop-color="#f2f6fb"/><stop offset="0.6492" stop-color="#ffffff"/><stop offset="0.7503" stop-color="#fcd9da"/><stop offset="0.8500" stop-color="#f8b4b4"/><stop offset="0.9461" stop-color="#f48e8f"/><stop offset="1.0000" stop-color="#f3797a"/></linearGradient><linearGradient id="h32"><stop offset="0.0000" stop-color="#cdddee"/><stop offset="0.0877" stop-color="#cedeee"/><stop offset="0.1462" stop-color="#d0dfef"/><stop offset="0.2046" stop-color="#d3e1f0"/><stop offset="0.2485" stop-color="#d6e3f1"/><stop offset="0.2923" stop-color="#dae6f2"/><stop offset="0.4278" stop-color="#e6eef6"/><stop offset="0.5411" stop-color="#f2f6fb"/><stop offset="0.6475" stop-color="#ffffff"/><stop offset="0.7484" stop-color="#fcd9da"/><stop offset="0.8480" stop-color="#f8b4b4"/><stop offset="0.9440" stop-color="#f48e8f"/><stop offset="1.0000" stop-color="#f2787a"/></linearGradient><linearGradient id="h33"><stop offset="0.0000" stop-color="#cdddee"/><stop offset="0.0874" stop-color="#cedeee"/><stop offset="0.1457" stop-color="#d0dfef"/><stop offset="0.2040" stop-color="#d3e1f0"/><stop offset="0.2477" stop-color="#d6e3f1"/><stop offset="0.2915" stop-color="#dae6f2"/><stop offset="0.4265" stop-color="#e6eef6"/><stop offset="0.5398" stop-color="#f2f6fb"/><stop offset="0.6461" stop-color="#ffffff"/><stop offset="0.7468" stop-color="#fcd9da"/><stop offset="0.8462" stop-color="#f8b4b4"/><stop offset="0.9420" stop-color="#f48e8f"/><stop offset="1.0000" stop-color="#f27779"/></linearGradient><linearGradient id="h34"><stop offset="0.0000" stop-color="#cdddee"/><stop offset="0.0872" stop-color="#cedeee"/><stop offset="0.1453" stop-color="#d0dfef"/><stop offset="0.2034" stop-color="#d3e1f0"/><stop offset="0.2470" stop-color="#d6e3f1"/><stop offset="0.2906" stop-color="#dae6f2"/><stop offset="0.4253" stop-color="#e6eef6"/><stop offset="0.5385" stop-color="#f2f6fb"/><stop offset="0.6446" stop-color="#ffffff"/><stop offset="0.7451" stop-color="#fcd9da"/><stop offset="0.8444" stop-color="#f8b4b4"/><stop offset="0.9399" stop-color="#f48e8f"/><stop offset="1.0000" stop-color="#f27678"/></linearGradient><linearGradient id="h35"><stop offset="0.0000" stop-color="#cdddee"/><stop offset="0.0869" stop-color="#cedeee"/><stop offset="0.1449" stop-color="#d0dfef"/><stop offset="0.2028" stop-color="#d3e1f0"/><stop offset="0.2463" stop-color="#d6e3f1"/><stop offset="0.2897" stop-color="#dae6f2"/><stop offset="0.4240" stop-color="#e6eef6"/><stop offset="0.5372" stop-color="#f2f6fb"/><stop offset="0.6431" stop-color="#ffffff"/><stop offset="0.7434" stop-color="#fcd9da"/><stop offset="0.8425" stop-color="#f8b4b4"/><stop offset="0.9379" stop-color="#f48e8f"/><stop offset="1.0000" stop-color="#f27577"/></linearGradient><linearGradient id="h36"><stop offset="0.0000" stop-color="#cdddee"/><stop offset="0.0867" stop-color="#cedeee"/><stop offset="0.1444" stop-color="#d0dfef"/><stop offset="0.2022" stop-color="#d3e1f0"/><stop offset="0.2455" stop-color="#d6e3f1"/><stop offset="0.2888" stop-color="#dae6f2"/><stop offset="0.4228" stop-color="#e6eef6"/><stop offset="0.5359" stop-color="#f2f6fb"/><stop offset="0.6416" stop-color="#ffffff"/><stop offset="0.7417" stop-color="#fcd9da"/><stop offset="0.8407" stop-color="#f8b4b4"/><stop offset="0.9358" stop-color="#f48e8f"/><stop offset="1.0000" stop-color="#f27476"/></linearGradient><linearGradient id="h37"><stop offset="0.0000" stop-color="#cdddee"/><stop offset="0.0864" stop-color="#cedeee"/><stop offset="0.1440" stop-color="#d0dfef"/><stop offset="0.2016" stop-color="#d3e1f0"/><stop offset="0.2448" stop-color="#d6e3f1"/><stop offset="0.2880" stop-color="#dae6f2"/><stop offset="0.4216" stop-color="#e6eef6"/><stop offset="0.5346" stop-color="#f2f6fb"/><stop offset="0.6401" stop-color="#ffffff"/><stop offset="0.7400" stop-color="#fcd9da"/><stop offset="0.8389" stop-color="#f8b4b4"/><stop offset="0.9337" stop-color="#f48e8f"/><stop offset="1.0000" stop-color="#f27375"/></linearGradient><linearGradient id="h38"><stop offset="0.0000" stop-color="#cdddee"/><stop offset="0.0861" stop-color="#cedeee"/><stop offset="0.1435" stop-color="#d0dfef"/><stop offset="0.2010" stop-color="#d3e1f0"/><stop offset="0.2440" stop-color="#d6e3f1"/><stop offset="0.2871" stop-color="#dae6f2"/><stop offset="0.4203" stop-color="#e6eef6"/><stop offset="0.5333" stop-color="#f2f6fb"/><stop offset="0.6386" stop-color="#ffffff"/><stop offset="0.7384" stop-color="#fcd9da"/><stop offset="0.8371" stop-color="#f8b4b4"/><stop offset="0.9317" stop-color="#f48e8f"/><stop offset="1.0000" stop-color="#f27274"/></linearGradient><linearGradient id="h39"><stop offset="0.0000" stop-color="#cdddee"/><stop offset="0.0859" stop-color="#cedeee"/><stop offset="0.1431" stop-color="#d0dfef"/><stop offset="0.2004" stop-color="#d3e1f0"/><stop offset="0.2433" stop-color="#d6e3f1"/><stop offset="0.2862" stop-color="#dae6f2"/><stop offset="0.4191" stop-color="#e6eef6"/><stop offset="0.5320" stop-color="#f2f6fb"/><stop offset="0.6371" stop-color="#ffffff"/><stop offset="0.7367" stop-color="#fcd9da"/><stop offset="0.8353" stop-color="#f8b4b4"/><stop offset="0.9296" stop-color="#f48e8f"/><stop offset="1.0000" stop-color="#f27273"/></linearGradient><linearGradient id="h40"><stop offset="0.0000" stop-color="#cdddee"/><stop offset="0.0856" stop-color="#cedeee"/><stop offset="0.1427" stop-color="#d0dfef"/><stop offset="0.1997" stop-color="#d3e1f0"/><stop offset="0.2426" stop-color="#d6e3f1"/><stop offset="0.2854" stop-color="#dae6f2"/><stop offset="0.4178" stop-color="#e6eef6"/><stop offset="0.5307" stop-color="#f2f6fb"/><stop offset="0.6356" stop-color="#ffffff"/><stop offset="0.7350" stop-color="#fcd9da"/><stop offset="0.8335" stop-color="#f8b4b4"/><stop offset="0.9276" stop-color="#f48e8f"/><stop offset="1.0000" stop-color="#f27173"/></linearGradient><linearGradient id="h41"><stop offset="0.0000" stop-color="#cdddee"/><stop offset="0.0853" stop-color="#cedeee"/><stop offset="0.1422" stop-color="#d0dfef"/><stop offset="0.1991" stop-color="#d3e1f0"/><stop offset="0.2418" stop-color="#d6e3f1"/><stop offset="0.2845" stop-color="#dae6f2"/><stop offset="0.4166" stop-color="#e6eef6"/><stop offset="0.5294" stop-color="#f2f6fb"/><stop offset="0.6341" stop-color="#ffffff"/><stop offset="0.7333" stop-color="#fcd9da"/><stop offset="0.8317" stop-color="#f8b4b4"/><stop offset="0.9255" stop-color="#f48e8f"/><stop offset="1.0000" stop-color="#f27072"/></linearGradient><linearGradient id="h42"><stop offset="0.0000" stop-color="#cdddee"/><stop offset="0.0851" stop-color="#cedeee"/><stop offset="0.1418" stop-color="#d0dfef"/><stop offset="0.1985" stop-color="#d3e1f0"/><stop offset="0.2411" stop-color="#d6e3f1"/><stop offset="0.2836" stop-color="#dae6f2"/><stop offset="0.4153" stop-color="#e6eef6"/><stop offset="0.5280" stop-color="#f2f6fb"/><stop offset="0.6326" stop-color="#ffffff"/><stop offset="0.7316" stop-color="#fcd9da"/><stop offset="0.8299" stop-color="#f8b4b4"/><stop offset="0.9235" stop-color="#f48e8f"/><stop offset="1.0000" stop-color="#f26f71"/></linearGradient><linearGradient id="h43"><stop offset="0.0000" stop-color="#cdddee"/><stop offset="0.0848" stop-color="#cedeee"/><stop offset="0.1414" stop-color="#d0dfef"/><stop offset="0.1979" stop-color="#d3e1f0"/><stop offset="0.2403" stop-color="#d6e3f1"/><stop offset="0.2827" stop-color="#dae6f2"/><stop offset="0.4141" stop-color="#e6eef6"/><stop offset="0.5267" stop-color="#f2f6fb"/><stop offset="0.6311" stop-color="#ffffff"/><stop offset="0.7300" stop-color="#fcd9da"/><stop offset="0.8281" stop-color="#f8b4b4"/><stop offset="0.9214" stop-color="#f48e8f"/><stop offset="1.0000" stop-color="#f26e70"/></linearGradient><linearGradient id="h44"><stop offset="0.0000" stop-color="#cdddee"/><stop offset="0.0846" stop-color="#cedeee"/><stop offset="0.1409" stop-color="#d0dfef"/><stop offset="0.1973" stop-color="#d3e1f0"/><stop offset="0.2396" stop-color="#d6e3f1"/><stop offset="0.2819" stop-color="#dae6f2"/><stop offset="0.4129" stop-color="#e6eef6"/><stop offset="0.5254" stop-color="#f2f6fb"/><stop offset="0.6299" stop-color="#ffffff"/><stop offset="0.7287" stop-color="#fcd9da"/><stop offset="0.8267" stop-color="#f8b4b4"/><stop offset="0.9204" stop-color="#f48e8f"/><stop offset="1.0000" stop-color="#f26e70"/></linearGradient><linearGradient id="h45"><stop offset="0.0000" stop-color="#cdddee"/><stop offset="0.0843" stop-color="#cedeee"/><stop offset="0.1405" stop-color="#d0dfef"/><stop offset="0.1967" stop-color="#d3e1f0"/><stop offset="0.2388" stop-color="#d6e3f1"/><stop offset="0.2810" stop-color="#dae6f2"/><stop offset="0.4117" stop-color="#e6eef6"/><stop offset="0.5240" stop-color="#f2f6fb"/><stop offset="0.6288" stop-color="#ffffff"/><stop offset="0.7276" stop-color="#fcd9da"/><stop offset="0.8253" stop-color="#f8b4b4"/><stop offset="0.9194" stop-color="#f48e8f"/><stop offset="1.0000" stop-color="#f26d6f"/></linearGradient><linearGradient id="h46"><stop offset="0.0000" stop-color="#cdddee"/><stop offset="0.0840" stop-color="#cedeee"/><stop offset="0.1401" stop-color="#d0dfef"/><stop offset="0.1961" stop-color="#d3e1f0"/><stop offset="0.2381" stop-color="#d6e3f1"/><stop offset="0.2801" stop-color="#dae6f2"/><stop offset="0.4105" stop-color="#e6eef6"/><stop offset="0.5226" stop-color="#f2f6fb"/><stop offset="0.6276" stop-color="#ffffff"/><stop offset="0.7264" stop-color="#fcd9da"/><stop offset="0.8239" stop-color="#f8b4b4"/><stop offset="0.9185" stop-color="#f48e8f"/><stop offset="1.0000" stop-color="#f16d6f"/></linearGradient><linearGradient id="h47"><stop offset="0.0000" stop-color="#cdddee"/><stop offset="0.0838" stop-color="#cedeee"/><stop offset="0.1396" stop-color="#d0dfef"/><stop offset="0.1955" stop-color="#d3e1f0"/><stop offset="0.2373" stop-color="#d6e3f1"/><stop offset="0.2792" stop-color="#dae6f2"/><stop offset="0.4093" stop-color="#e6eef6"/><stop offset="0.5213" stop-color="#f2f6fb"/><stop offset="0.6265" stop-color="#ffffff"/><stop offset="0.7253" stop-color="#fcd9da"/><stop offset="0.8226" stop-color="#f8b4b4"/><stop offset="0.9176" stop-color="#f48e8f"/><stop offset="1.0000" stop-color="#f16d6f"/></linearGradient><linearGradient id="h48"><stop offset="0.0000" stop-color="#cdddee"/><stop offset="0.0835" stop-color="#cedeee"/><stop offset="0.1392" stop-color="#d0dfef"/><stop offset="0.1948" stop-color="#d3e1f0"/><stop offset="0.2366" stop-color="#d6e3f1"/><stop offset="0.2784" stop-color="#dae6f2"/><stop offset="0.4080" stop-color="#e6eef6"/><stop offset="0.5199" stop-color="#f2f6fb"/><stop offset="0.6253" stop-color="#ffffff"/><stop offset="0.7241" stop-color="#fcd9da"/><stop offset="0.8212" stop-color="#f8b4b4"/><stop offset="0.9166" stop-color="#f48e8f"/><stop offset="1.0000" stop-color="#f16d6f"/></linearGradient><linearGradient id="h49"><stop offset="0.0000" stop-color="#cdddee"/><stop offset="0.0832" stop-color="#cedeee"/><stop offset="0.1387" stop-color="#d0dfef"/><stop offset="0.1942" stop-color="#d3e1f0"/><stop offset="0.2359" stop-color="#d6e3f1"/><stop offset="0.2775" stop-color="#dae6f2"/><stop offset="0.4068" stop-color="#e6eef6"/><stop offset="0.5185" stop-color="#f2f6fb"/><stop offset="0.6242" stop-color="#ffffff"/><stop offset="0.7230" stop-color="#fcd9da"/><stop offset="0.8198" stop-color="#f8b4b4"/><stop offset="0.9157" stop-color="#f48e8f"/><stop offset="1.0000" stop-color="#f16d6f"/></linearGradient><linearGradient id="h50"><stop offset="0.0000" stop-color="#cdddee"/><stop offset="0.0830" stop-color="#cedeee"/><stop offset="0.1383" stop-color="#d0dfef"/><stop offset="0.1936" stop-color="#d3e1f0"/><stop offset="0.2351" stop-color="#d6e3f1"/><stop offset="0.2766" stop-color="#dae6f2"/><stop offset="0.4056" stop-color="#e6eef6"/><stop offset="0.5171" stop-color="#f2f6fb"/><stop offset="0.6230" stop-color="#ffffff"/><stop offset="0.7218" stop-color="#fcd9da"/><stop offset="0.8185" stop-color="#f8b4b4"/><stop offset="0.9148" stop-color="#f48e8f"/><stop offset="1.0000" stop-color="#f16c6e"/></linearGradient><linearGradient id="h51"><stop offset="0.0000" stop-color="#cdddee"/><stop offset="0.0827" stop-color="#cedeee"/><stop offset="0.1379" stop-color="#d0dfef"/><stop offset="0.1930" stop-color="#d3e1f0"/><stop offset="0.2344" stop-color="#d6e3f1"/><stop offset="0.2757" stop-color="#dae6f2"/><stop offset="0.4044" stop-color="#e6eef6"/><stop offset="0.5158" stop-color="#f2f6fb"/><stop offset="0.6219" stop-color="#ffffff"/><stop offset="0.7207" stop-color="#fcd9da"/><stop offset="0.8171" stop-color="#f8b4b4"/><stop offset="0.9139" stop-color="#f48e8f"/><stop offset="1.0000" stop-color="#f16c6e"/></linearGradient><linearGradient id="h52"><stop offset="0.0000" stop-color="#cdddee"/><stop offset="0.0825" stop-color="#cedeee"/><stop offset="0.1374" stop-color="#d0dfef"/><stop offset="0.1924" stop-color="#d3e1f0"/><stop offset="0.2336" stop-color="#d6e3f1"/><stop offset="0.2748" stop-color="#dae6f2"/><stop offset="0.4032" stop-color="#e6eef6"/><stop offset="0.5144" stop-color="#f2f6fb"/><stop offset="0.6207" stop-color="#ffffff"/><stop offset="0.7195" stop-color="#fcd9da"/><stop offset="0.8157" stop-color="#f8b4b4"/><stop offset="0.9129" stop-color="#f48e8f"/><stop offset="1.0000" stop-color="#f16c6e"/></linearGradient><linearGradient id="h53"><stop offset="0.0000" stop-color="#cdddee"/><stop offset="0.0822" stop-color="#cedeee"/><stop offset="0.1370" stop-color="#d0dfef"/><stop offset="0.1918" stop-color="#d3e1f0"/><stop offset="0.2329" stop-color="#d6e3f1"/><stop offset="0.2740" stop-color="#dae6f2"/><stop offset="0.4020" stop-color="#e6eef6"/><stop offset="0.5130" stop-color="#f2f6fb"/><stop offset="0.6196" stop-color="#ffffff"/><stop offset="0.7184" stop-color="#fcd9da"/><stop offset="0.8143" stop-color="#f8b4b4"/><stop offset="0.9120" stop-color="#f48e8f"/><stop offset="1.0000" stop-color="#f16c6e"/></linearGradient><linearGradient id="h54"><stop offset="0.0000" stop-color="#cdddee"/><stop offset="0.0819" stop-color="#cedeee"/><stop offset="0.1365" stop-color="#d0dfef"/><stop offset="0.1912" stop-color="#d3e1f0"/><stop offset="0.2321" stop-color="#d6e3f1"/><stop offset="0.2731" stop-color="#dae6f2"/><stop offset="0.4008" stop-color="#e6eef6"/><stop offset="0.5117" stop-color="#f2f6fb"/><stop offset="0.6184" stop-color="#ffffff"/><stop offset="0.7172" stop-color="#fcd9da"/><stop offset="0.8130" stop-color="#f8b4b4"/><stop offset="0.9111" stop-color="#f48e8f"/><stop offset="1.0000" stop-color="#f16c6d"/></linearGradient><linearGradient id="h55"><stop offset="0.0000" stop-color="#cdddee"/><stop offset="0.0817" stop-color="#cedeee"/><stop offset="0.1361" stop-color="#d0dfef"/><stop offset="0.1905" stop-color="#d3e1f0"/><stop offset="0.2314" stop-color="#d6e3f1"/><stop offset="0.2722" stop-color="#dae6f2"/><stop offset="0.3996" stop-color="#e6eef6"/><stop offset="0.5103" stop-color="#f2f6fb"/><stop offset="0.6173" stop-color="#ffffff"/><stop offset="0.7161" stop-color="#fcd9da"/><stop offset="0.8116" stop-color="#f8b4b4"/><stop offset="0.9101" stop-color="#f48e8f"/><stop offset="1.0000" stop-color="#f16b6d"/></linearGradient><linearGradient id="h56"><stop offset="0.0000" stop-color="#cdddee"/><stop offset="0.0815" stop-color="#cedeee"/><stop offset="0.1358" stop-color="#d0dfef"/><stop offset="0.1902" stop-color="#d3e1f0"/><stop offset="0.2309" stop-color="#d6e3f1"/><stop offset="0.2717" stop-color="#dae6f2"/><stop offset="0.3989" stop-color="#e6eef6"/><stop offset="0.5095" stop-color="#f2f6fb"/><stop offset="0.6160" stop-color="#ffffff"/><stop offset="0.7153" stop-color="#fcd9da"/><stop offset="0.8108" stop-color="#f8b4b4"/><stop offset="0.9090" stop-color="#f48e8f"/><stop offset="1.0000" stop-color="#f16b6d"/></linearGradient><linearGradient id="h57"><stop offset="0.0000" stop-color="#cdddee"/><stop offset="0.0815" stop-color="#cedeee"/><stop offset="0.1359" stop-color="#d0dfef"/><stop offset="0.1903" stop-color="#d3e1f0"/><stop offset="0.2310" stop-color="#d6e3f1"/><stop offset="0.2718" stop-color="#dae6f2"/><stop offset="0.3993" stop-color="#e6eef6"/><stop offset="0.5099" stop-color="#f2f6fb"/><stop offset="0.6150" stop-color="#ffffff"/><stop offset="0.7153" stop-color="#fcd9da"/><stop offset="0.8112" stop-color="#f8b4b4"/><stop offset="0.9087" stop-color="#f48e8f"/><stop offset="1.0000" stop-color="#f16a6c"/></linearGradient><linearGradient id="h58"><stop offset="0.0000" stop-color="#cdddee"/><stop offset="0.0816" stop-color="#cedeee"/><stop offset="0.1359" stop-color="#d0dfef"/><stop offset="0.1903" stop-color="#d3e1f0"/><stop offset="0.2311" stop-color="#d6e3f1"/><stop offset="0.2719" stop-color="#dae6f2"/><stop offset="0.3996" stop-color="#e6eef6"/><stop offset="0.5102" stop-color="#f2f6fb"/><stop offset="0.6143" stop-color="#ffffff"/><stop offset="0.7161" stop-color="#fcd9da"/><stop offset="0.8127" stop-color="#f8b4b4"/><stop offset="0.9116" stop-color="#f48e8f"/><stop offset="1.0000" stop-color="#f16c6e"/></linearGradient><linearGradient id="h59"><stop offset="0.0000" stop-color="#cdddee"/><stop offset="0.0816" stop-color="#cedeee"/><stop offset="0.1360" stop-color="#d0dfef"/><stop offset="0.1904" stop-color="#d3e1f0"/><stop offset="0.2312" stop-color="#d6e3f1"/><stop offset="0.2720" stop-color="#dae6f2"/><stop offset="0.3999" stop-color="#e6eef6"/><stop offset="0.5105" stop-color="#f2f6fb"/><stop offset="0.6136" stop-color="#ffffff"/><stop offset="0.7177" stop-color="#fcd9da"/><stop offset="0.8155" stop-color="#f8b4b4"/><stop offset="0.9145" stop-color="#f48e8f"/><stop offset="1.0000" stop-color="#f16d6f"/></linearGradient><linearGradient id="h60"><stop offset="0.0000" stop-color="#cdddee"/><stop offset="0.0816" stop-color="#cedeee"/><stop offset="0.1360" stop-color="#d0dfef"/><stop offset="0.1904" stop-color="#d3e1f0"/><stop offset="0.2313" stop-color="#d6e3f1"/><stop offset="0.2721" stop-color="#dae6f2"/><stop offset="0.4001" stop-color="#e6eef6"/><stop offset="0.5107" stop-color="#f2f6fb"/><stop offset="0.6132" stop-color="#ffffff"/><stop offset="0.7193" stop-color="#fcd9da"/><stop offset="0.8184" stop-color="#f8b4b4"/><stop offset="0.9174" stop-color="#f48e8f"/><stop offset="1.0000" stop-color="#f26e70"/></linearGradient><linearGradient id="h61"><stop offset="0.0000" stop-color="#cdddee"/><stop offset="0.0816" stop-color="#cedeee"/><stop offset="0.1361" stop-color="#d0dfef"/><stop offset="0.1905" stop-color="#d3e1f0"/><stop offset="0.2313" stop-color="#d6e3f1"/><stop offset="0.2722" stop-color="#dae6f2"/><stop offset="0.4004" stop-color="#e6eef6"/><stop offset="0.5110" stop-color="#f2f6fb"/><stop offset="0.6150" stop-color="#ffffff"/><stop offset="0.7210" stop-color="#fcd9da"/><stop offset="0.8212" stop-color="#f8b4b4"/><stop offset="0.9208" stop-color="#f48e8f"/><stop offset="1.0000" stop-color="#f27072"/></linearGradient><linearGradient id="h62"><stop offset="0.0000" stop-color="#cdddee"/><stop offset="0.0817" stop-color="#cedeee"/><stop offset="0.1361" stop-color="#d0dfef"/><stop offset="0.1906" stop-color="#d3e1f0"/><stop offset="0.2314" stop-color="#d6e3f1"/><stop offset="0.2722" stop-color="#dae6f2"/><stop offset="0.4007" stop-color="#e6eef6"/><stop offset="0.5113" stop-color="#f2f6fb"/><stop offset="0.6168" stop-color="#ffffff"/><stop offset="0.7226" stop-color="#fcd9da"/><stop offset="0.8240" stop-color="#f8b4b4"/><stop offset="0.9251" stop-color="#f48e8f"/><stop offset="1.0000" stop-color="#f27274"/></linearGradient><linearGradient id="h63"><stop offset="0.0000" stop-color="#cdddee"/><stop offset="0.0817" stop-color="#cedeee"/><stop offset="0.1362" stop-color="#d0dfef"/><stop offset="0.1907" stop-color="#d3e1f0"/><stop offset="0.2316" stop-color="#d6e3f1"/><stop offset="0.2725" stop-color="#dae6f2"/><stop offset="0.4018" stop-color="#e6eef6"/><stop offset="0.5116" stop-color="#f2f6fb"/><stop offset="0.6186" stop-color="#ffffff"/><stop offset="0.7242" stop-color="#fcd9da"/><stop offset="0.8268" stop-color="#f8b4b4"/><stop offset="0.9293" stop-color="#f48e8f"/><stop offset="1.0000" stop-color="#f27476"/></linearGradient><linearGradient id="h64"><stop offset="0.0000" stop-color="#cdddee"/><stop offset="0.0818" stop-color="#cedeee"/><stop offset="0.1364" stop-color="#d0dfef"/><stop offset="0.1910" stop-color="#d3e1f0"/><stop offset="0.2319" stop-color="#d6e3f1"/><stop offset="0.2728" stop-color="#dae6f2"/><stop offset="0.4036" stop-color="#e6eef6"/><stop offset="0.5118" stop-color="#f2f6fb"/><stop offset="0.6204" stop-color="#ffffff"/><stop offset="0.7258" stop-color="#fcd9da"/><stop offset="0.8302" stop-color="#f8b4b4"/><stop offset="0.9352" stop-color="#f48e8f"/><stop offset="1.0000" stop-color="#f27678"/></linearGradient><linearGradient id="h65"><stop offset="0.0000" stop-color="#cdddee"/><stop offset="0.0820" stop-color="#cedeee"/><stop offset="0.1366" stop-color="#d0dfef"/><stop offset="0.1912" stop-color="#d3e1f0"/><stop offset="0.2322" stop-color="#d6e3f1"/><stop offset="0.2732" stop-color="#dae6f2"/><stop offset="0.4054" stop-color="#e6eef6"/><stop offset="0.5127" stop-color="#f2f6fb"/><stop offset="0.6227" stop-color="#ffffff"/><stop offset="0.7324" stop-color="#fcd9da"/><stop offset="0.8390" stop-color="#f8b4b4"/><stop offset="0.9449" stop-color="#f48e8f"/><stop offset="1.0000" stop-color="#f37a7c"/></linearGradient><linearGradient id="h66"><stop offset="0.0000" stop-color="#cdddee"/><stop offset="0.0821" stop-color="#cedeee"/><stop offset="0.1368" stop-color="#d0dfef"/><stop offset="0.1915" stop-color="#d3e1f0"/><stop offset="0.2325" stop-color="#d6e3f1"/><stop offset="0.2735" stop-color="#dae6f2"/><stop offset="0.4073" stop-color="#e6eef6"/><stop offset="0.5186" stop-color="#f2f6fb"/><stop offset="0.6302" stop-color="#ffffff"/><stop offset="0.7410" stop-color="#fcd9da"/><stop offset="0.8478" stop-color="#f8b4b4"/><stop offset="0.9549" stop-color="#f48e8f"/><stop offset="1.0000" stop-color="#f37e80"/></linearGradient><linearGradient id="h67"><stop offset="0.0000" stop-color="#cdddee"/><stop offset="0.0822" stop-color="#cedeee"/><stop offset="0.1369" stop-color="#d0dfef"/><stop offset="0.1917" stop-color="#d3e1f0"/><stop offset="0.2328" stop-color="#d6e3f1"/><stop offset="0.2739" stop-color="#dae6f2"/><stop offset="0.4091" stop-color="#e6eef6"/><stop offset="0.5246" stop-color="#f2f6fb"/><stop offset="0.6377" stop-color="#ffffff"/><stop offset="0.7497" stop-color="#fcd9da"/><stop offset="0.8582" stop-color="#f8b4b4"/><stop offset="0.9671" stop-color="#f48e8f"/><stop offset="1.0000" stop-color="#f38284"/></linearGradient><linearGradient id="h68"><stop offset="0.0000" stop-color="#cdddee"/><stop offset="0.0823" stop-color="#cedeee"/><stop offset="0.1371" stop-color="#d0dfef"/><stop offset="0.1920" stop-color="#d3e1f0"/><stop offset="0.2331" stop-color="#d6e3f1"/><stop offset="0.2743" stop-color="#dae6f2"/><stop offset="0.4168" stop-color="#e6eef6"/><stop offset="0.5322" stop-color="#f2f6fb"/><stop offset="0.6492" stop-color="#ffffff"/><stop offset="0.7633" stop-color="#fcd9da"/><stop offset="0.8746" stop-color="#f8b4b4"/><stop offset="0.9793" stop-color="#f48e8f"/><stop offset="1.0000" stop-color="#f48688"/></linearGradient><linearGradient id="h69"><stop offset="0.0000" stop-color="#cdddee"/><stop offset="0.0832" stop-color="#cedeee"/><stop offset="0.1386" stop-color="#d0dfef"/><stop offset="0.1941" stop-color="#d3e1f0"/><stop offset="0.2357" stop-color="#d6e3f1"/><stop offset="0.2773" stop-color="#dae6f2"/><stop offset="0.4245" stop-color="#e6eef6"/><stop offset="0.5464" stop-color="#f2f6fb"/><stop offset="0.6634" stop-color="#ffffff"/><stop offset="0.7778" stop-color="#fcd9da"/><stop offset="0.8930" stop-color="#f8b4b4"/><stop offset="0.9937" stop-color="#f48e8f"/><stop offset="1.0000" stop-color="#f48b8d"/></linearGradient><linearGradient id="h70"><stop offset="0.0000" stop-color="#cdddee"/><stop offset="0.0844" stop-color="#cedeee"/><stop offset="0.1407" stop-color="#d0dfef"/><stop offset="0.1970" stop-color="#d3e1f0"/><stop offset="0.2392" stop-color="#d6e3f1"/><stop offset="0.2814" stop-color="#dae6f2"/><stop offset="0.4370" stop-color="#e6eef6"/><stop offset="0.5624" stop-color="#f2f6fb"/><stop offset="0.6805" stop-color="#ffffff"/><stop offset="0.7951" stop-color="#fcd9da"/><stop offset="0.9146" stop-color="#f8b4b4"/><stop offset="1.0000" stop-color="#f48e8f"/></linearGradient><linearGradient id="h71"><stop offset="0.0000" stop-color="#cdddee"/><stop offset="0.0877" stop-color="#cedeee"/><stop offset="0.1462" stop-color="#d0dfef"/><stop offset="0.2046" stop-color="#d3e1f0"/><stop offset="0.2485" stop-color="#d6e3f1"/><stop offset="0.2923" stop-color="#dae6f2"/><stop offset="0.4607" stop-color="#e6eef6"/><stop offset="0.5960" stop-color="#f2f6fb"/><stop offset="0.7017" stop-color="#ffffff"/><stop offset="0.8224" stop-color="#fcd9da"/><stop offset="0.9516" stop-color="#f8b4b4"/><stop offset="1.0000" stop-color="#f48e8f"/></linearGradient><linearGradient id="h72"><stop offset="0.0000" stop-color="#cdddee"/><stop offset="0.0957" stop-color="#cedeee"/><stop offset="0.1595" stop-color="#d0dfef"/><stop offset="0.2233" stop-color="#d3e1f0"/><stop offset="0.2711" stop-color="#d6e3f1"/><stop offset="0.3189" stop-color="#dae6f2"/><stop offset="0.4955" stop-color="#e6eef6"/><stop offset="0.6337" stop-color="#f2f6fb"/><stop offset="0.7374" stop-color="#ffffff"/><stop offset="0.8411" stop-color="#fcd9da"/><stop offset="0.9862" stop-color="#f8b4b4"/><stop offset="1.0000" stop-color="#f48e8f"/></linearGradient><linearGradient id="h73"><stop offset="0.0000" stop-color="#cdddee"/><stop offset="0.0957" stop-color="#cedeee"/><stop offset="0.1595" stop-color="#d0dfef"/><stop offset="0.2233" stop-color="#d3e1f0"/><stop offset="0.2711" stop-color="#d6e3f1"/><stop offset="0.3189" stop-color="#dae6f2"/><stop offset="0.4955" stop-color="#e6eef6"/><stop offset="0.6337" stop-color="#f2f6fb"/><stop offset="0.7374" stop-color="#ffffff"/><stop offset="0.8411" stop-color="#fcd9da"/><stop offset="0.9862" stop-color="#f8b4b4"/><stop offset="1.0000" stop-color="#f48e8f"/></linearGradient></defs>
<rect x="498.3" y="370" width="144.7" height="2" fill="url(#h0)"/>
<rect x="498.3" y="372" width="144.7" height="2" fill="url(#h1)"/>
<rect x="498.3" y="374" width="144.7" height="2" fill="url(#h2)"/>
<rect x="498.3" y="376" width="144.7" height="2" fill="url(#h3)"/>
<rect x="498.3" y="378" width="144.7" height="2" fill="url(#h4)"/>
<rect x="498.3" y="380" width="144.7" height="2" fill="url(#h5)"/>
<rect x="498.3" y="382" width="144.7" height="2" fill="url(#h6)"/>
<rect x="498.3" y="384" width="144.7" height="2" fill="url(#h7)"/>
<rect x="498.3" y="386" width="144.7" height="2" fill="url(#h8)"/>
<rect x="498.3" y="388" width="144.7" height="2" fill="url(#h9)"/>
<rect x="498.3" y="390" width="144.7" height="2" fill="url(#h10)"/>
<rect x="498.3" y="392" width="144.7" height="2" fill="url(#h11)"/>
<rect x="498.3" y="394" width="144.7" height="2" fill="url(#h12)"/>
<rect x="498.3" y="396" width="144.7" height="2" fill="url(#h13)"/>
<rect x="498.3" y="398" width="144.7" height="2" fill="url(#h14)"/>
<rect x="498.3" y="400" width="144.7" height="2" fill="url(#h15)"/>
<rect x="498.3" y="402" width="144.7" height="2" fill="url(#h16)"/>
<rect x="498.3" y="404" width="144.7" height="2" fill="url(#h17)"/>
<rect x="498.3" y="406" width="144.7" height="2" fill="url(#h18)"/>
<rect x="498.3" y="408" width="144.7" height="2" fill="url(#h19)"/>
<rect x="498.3" y="410" width="144.7" height="2" fill="url(#h20)"/>
<rect x="498.3" y="412" width="144.7" height="2" fill="url(#h21)"/>
<rect x="498.3" y="414" width="144.7" height="2" fill="url(#h22)"/>
<rect x="498.3" y="416" width="144.7" height="2" fill="url(#h23)"/>
<rect x="498.3" y="418" width="144.7" height="2" fill="url(#h24)"/>
<rect x="498.3" y="420" width="144.7" height="2" fill="url(#h25)"/>
<rect x="498.3" y="422" width="144.7" height="2" fill="url(#h26)"/>
<rect x="498.3" y="424" width="144.7" height="2" fill="url(#h27)"/>
<rect x="498.3" y="426" width="144.7" height="2" fill="url(#h28)"/>
<rect x="498.3" y="428" width="144.7" height="2" fill="url(#h29)"/>
<rect x="498.3" y="430" width="144.7" height="2" fill="url(#h30)"/>
<rect x="498.3" y="432" width="144.7" height="2" fill="url(#h31)"/>
<rect x="498.3" y="434" width="144.7" height="2" fill="url(#h32)"/>
<rect x="498.3" y="436" width="144.7" height="2" fill="url(#h33)"/>
<rect x="498.3" y="438" width="144.7" height="2" fill="url(#h34)"/>
<rect x="498.3" y="440" width="144.7" height="2" fill="url(#h35)"/>
<rect x="498.3" y="442" width="144.7" height="2" fill="url(#h36)"/>
<rect x="498.3" y="444" width="144.7" height="2" fill="url(#h37)"/>
<rect x="498.3" y="446" width="144.7" height="2" fill="url(#h38)"/>
<rect x="498.3" y="448" width="144.7" height="2" fill="url(#h39)"/>
<rect x="498.3" y="450" width="144.7" height="2" fill="url(#h40)"/>
<rect x="498.3" y="452" width="144.7" height="2" fill="url(#h41)"/>
<rect x="498.3" y="454" width="144.7" height="2" fill="url(#h42)"/>
<rect x="498.3" y="456" width="144.7" height="2" fill="url(#h43)"/>
<rect x="498.3" y="458" width="144.7" height="2" fill="url(#h44)"/>
<rect x="498.3" y="460" width="144.7" height="2" fill="url(#h45)"/>
<rect x="498.3" y="462" width="144.7" height="2" fill="url(#h46)"/>
<rect x="498.3" y="464" width="144.7" height="2" fill="url(#h47)"/>
<rect x="498.3" y="466" width="144.7" height="2" fill="url(#h48)"/>
<rect x="498.3" y="468" width="144.7" height="2" fill="url(#h49)"/>
<rect x="498.3" y="470" width="144.7" height="2" fill="url(#h50)"/>
<rect x="498.3" y="472" width="144.7" height="2" fill="url(#h51)"/>
<rect x="498.3" y="474" width="144.7" height="2" fill="url(#h52)"/>
<rect x="498.3" y="476" width="144.7" height="2" fill="url(#h53)"/>
<rect x="498.3" y="478" width="144.7" height="2" fill="url(#h54)"/>
<rect x="498.3" y="480" width="144.7" height="2" fill="url(#h55)"/>
<rect x="498.3" y="482" width="144.7" height="2" fill="url(#h56)"/>
<rect x="498.3" y="484" width="144.7" height="1" fill="url(#h57)"/>
<rect x="498.3" y="485" width="144.7" height="1" fill="url(#h58)"/>
<rect x="498.3" y="486" width="144.7" height="1" fill="url(#h59)"/>
<rect x="498.3" y="487" width="144.7" height="1" fill="url(#h60)"/>
<rect x="498.3" y="488" width="144.7" height="1" fill="url(#h61)"/>
<rect x="498.3" y="489" width="144.7" height="1" fill="url(#h62)"/>
<rect x="498.3" y="490" width="144.7" height="1" fill="url(#h63)"/>
<rect x="498.3" y="491" width="144.7" height="1" fill="url(#h64)"/>
<rect x="498.3" y="492" width="144.7" height="1" fill="url(#h65)"/>
<rect x="498.3" y="493" width="144.7" height="1" fill="url(#h66)"/>
<rect x="498.3" y="494" width="144.7" height="1" fill="url(#h67)"/>
<rect x="498.3" y="495" width="144.7" height="1" fill="url(#h68)"/>
<rect x="498.3" y="496" width="144.7" height="1" fill="url(#h69)"/>
<rect x="498.3" y="497" width="144.7" height="1" fill="url(#h70)"/>
<rect x="498.3" y="498" width="144.7" height="1" fill="url(#h71)"/>
<rect x="498.3" y="499" width="144.7" height="1" fill="url(#h72)"/>
<rect x="498.3" y="500" width="144.7" height="1" fill="url(#h73)"/>
<clipPath id="ch"><rect x="498.3" y="370.5" width="144.7" height="130.5"/></clipPath>
<g clip-path="url(#ch)">
<path d="M544 370.5 L544 370.59 L544.01 370.48 L544 370.69 L543.94 371.76 L543.8 374.2 L543.55 378.4 L543.22 384.01 L542.84 390.46 L542.45 397.18 L542.1 403.6 L541.79 409.9 L541.48 416.46 L541.18 423.01 L540.89 429.28 L540.6 435 L540.32 439.98 L540.04 444.4 L539.77 448.55 L539.49 452.72 L539.2 457.2 L538.87 462.33 L538.49 467.91 L538.13 473.44 L537.81 478.44 L537.6 482.4 L537.51 485.08 L537.51 486.79 L537.56 487.93 L537.64 488.88 L537.7 490 L537.73 491.33 L537.75 492.61 L537.78 493.8 L537.86 494.88 L538 495.8 L538.16 496.54 L538.32 497.11 L538.55 497.57 L538.92 497.95 L539.5 498.3 L540.43 498.61 L541.68 498.86 L543 499.04 L544.19 499.19 L545 499.3" fill="none" stroke="#222" stroke-width="1.1" stroke-dasharray="1.1 2.7"/>
<path d="M565.1 370.5 L565.1 370.59 L565.13 370.48 L565.13 370.69 L565.07 371.76 L564.9 374.2 L564.59 378.4 L564.18 384.01 L563.7 390.46 L563.19 397.18 L562.7 403.6 L562.21 409.9 L561.7 416.46 L561.18 423.01 L560.67 429.28 L560.2 435 L559.77 439.98 L559.37 444.4 L558.99 448.55 L558.6 452.72 L558.2 457.2 L557.73 462.33 L557.21 467.91 L556.71 473.44 L556.28 478.44 L556 482.4 L555.89 485.1 L555.9 486.86 L556 488.03 L556.14 488.96 L556.3 490 L556.45 491.13 L556.63 492.11 L556.85 492.98 L557.13 493.76 L557.5 494.5 L557.94 495.17 L558.45 495.76 L559.03 496.29 L559.71 496.76 L560.5 497.2 L561.43 497.61 L562.5 497.97 L563.64 498.28 L564.83 498.56 L566 498.8 L567.26 498.99 L568.65 499.14 L570.01 499.25 L571.18 499.33 L572 499.4" fill="none" stroke="#222" stroke-width="1.1" stroke-dasharray="1.1 2.7"/>
<path d="M582.7 370.5 L582.69 370.59 L582.7 370.48 L582.69 370.69 L582.6 371.76 L582.4 374.2 L582.07 378.4 L581.64 384.01 L581.13 390.46 L580.58 397.18 L580 403.6 L579.36 409.9 L578.65 416.46 L577.91 423.01 L577.21 429.28 L576.6 435 L576.1 439.98 L575.69 444.4 L575.31 448.55 L574.92 452.72 L574.5 457.2 L573.98 462.29 L573.39 467.79 L572.81 473.27 L572.32 478.28 L572 482.4 L571.86 485.49 L571.85 487.84 L571.95 489.64 L572.14 491.1 L572.4 492.4 L572.74 493.45 L573.16 494.11 L573.67 494.54 L574.25 494.88 L574.9 495.3 L575.6 495.78 L576.37 496.23 L577.21 496.65 L578.15 497.04 L579.2 497.4 L580.41 497.74 L581.78 498.05 L583.22 498.33 L584.65 498.58 L586 498.8 L587.35 498.98 L588.75 499.13 L590.07 499.24 L591.2 499.33 L592 499.4" fill="none" stroke="#222" stroke-width="1.1" stroke-dasharray="1.1 2.7"/>
<path d="M598.8 370.5 L598.8 370.59 L598.82 370.48 L598.81 370.69 L598.72 371.76 L598.5 374.2 L598.13 378.4 L597.65 384.01 L597.07 390.46 L596.45 397.18 L595.8 403.6 L595.09 409.9 L594.29 416.46 L593.47 423.01 L592.69 429.28 L592 435 L591.43 439.98 L590.92 444.4 L590.47 448.55 L590.04 452.72 L589.6 457.2 L589.14 462.37 L588.66 468.03 L588.21 473.63 L587.81 478.6 L587.5 482.4 L587.27 484.69 L587.1 485.85 L586.99 486.37 L586.96 486.72 L587 487.4 L587.12 488.44 L587.32 489.52 L587.59 490.58 L587.92 491.56 L588.3 492.4 L588.73 493.07 L589.23 493.61 L589.78 494.07 L590.37 494.48 L591 494.9 L591.66 495.31 L592.37 495.68 L593.12 496.02 L593.9 496.36 L594.7 496.7 L595.51 497.06 L596.34 497.43 L597.2 497.79 L598.11 498.12 L599.1 498.4 L600.28 498.63 L601.64 498.82 L602.99 498.98 L604.17 499.11 L605 499.2" fill="none" stroke="#222" stroke-width="1.1" stroke-dasharray="1.1 2.7"/>
<path d="M614.2 370.5 L614.2 370.59 L614.23 370.48 L614.23 370.69 L614.14 371.76 L613.9 374.2 L613.49 378.4 L612.96 384.01 L612.32 390.46 L611.63 397.18 L610.9 403.6 L610.1 409.9 L609.2 416.46 L608.27 423.01 L607.38 429.28 L606.6 435 L605.95 439.98 L605.38 444.4 L604.86 448.55 L604.38 452.72 L603.9 457.2 L603.41 462.41 L602.92 468.15 L602.46 473.8 L602.08 478.76 L601.8 482.4 L601.64 484.3 L601.57 484.87 L601.58 484.74 L601.66 484.57 L601.8 485 L601.99 486.16 L602.23 487.61 L602.55 489.17 L602.93 490.63 L603.4 491.8 L603.98 492.63 L604.65 493.26 L605.39 493.74 L606.16 494.17 L606.9 494.6 L607.62 495.03 L608.35 495.4 L609.09 495.74 L609.84 496.07 L610.6 496.4 L611.36 496.74 L612.11 497.08 L612.88 497.41 L613.71 497.72 L614.6 498 L615.68 498.25 L616.92 498.49 L618.16 498.7 L619.24 498.87 L620 499" fill="none" stroke="#222" stroke-width="1.1" stroke-dasharray="1.1 2.7"/>
<path d="M629.4 370.5 L629.39 370.59 L629.41 370.48 L629.39 370.69 L629.27 371.76 L629 374.2 L628.55 378.4 L627.96 384.01 L627.26 390.46 L626.5 397.18 L625.7 403.6 L624.82 409.9 L623.83 416.46 L622.82 423.01 L621.85 429.28 L621 435 L620.3 439.98 L619.69 444.4 L619.14 448.55 L618.63 452.72 L618.1 457.2 L617.53 462.41 L616.95 468.15 L616.39 473.8 L615.93 478.76 L615.6 482.4 L615.41 484.31 L615.33 484.88 L615.36 484.77 L615.48 484.6 L615.7 485 L616.04 486.09 L616.51 487.45 L617.06 488.91 L617.67 490.28 L618.3 491.4 L618.97 492.22 L619.7 492.87 L620.46 493.4 L621.24 493.86 L622 494.3 L622.75 494.7 L623.49 495.04 L624.24 495.33 L625.01 495.61 L625.8 495.9 L626.6 496.21 L627.41 496.53 L628.24 496.83 L629.13 497.13 L630.1 497.4 L631.19 497.65 L632.39 497.89 L633.63 498.12 L634.85 498.32 L636 498.5 L637.14 498.66 L638.3 498.8 L639.4 498.93 L640.33 499.03 L641 499.1" fill="none" stroke="#222" stroke-width="1.1" stroke-dasharray="1.1 2.7"/>
<path d="M642.5 370.5 L642.48 370.59 L642.47 370.48 L642.43 370.69 L642.32 371.76 L642.1 374.2 L641.77 378.4 L641.36 384.01 L640.86 390.46 L640.27 397.18 L639.6 403.6 L638.78 409.9 L637.81 416.46 L636.78 423.01 L635.79 429.28 L634.9 435 L634.12 439.98 L633.4 444.4 L632.74 448.55 L632.14 452.72 L631.6 457.2 L631.13 462.42 L630.73 468.18 L630.4 473.85 L630.12 478.8 L629.9 482.4 L629.74 484.24 L629.63 484.75 L629.58 484.52 L629.6 484.17 L629.7 484.3 L629.9 484.95 L630.2 485.72 L630.55 486.54 L630.93 487.35 L631.3 488.1 L631.64 488.78 L631.98 489.43 L632.34 490.06 L632.74 490.65 L633.2 491.2 L633.73 491.7 L634.32 492.15 L634.96 492.57 L635.62 492.98 L636.3 493.4 L637.02 493.84 L637.79 494.29 L638.58 494.73 L639.33 495.14 L640 495.5 L640.59 495.81 L641.13 496.07 L641.63 496.31 L642.08 496.51 L642.5 496.7 L642.89 496.87 L643.24 497.01 L643.56 497.13 L643.81 497.23 L644 497.3" fill="none" stroke="#222" stroke-width="1.1" stroke-dasharray="1.1 2.7"/>
<line x1="538" y1="499.1" x2="643" y2="499.1" stroke="#222" stroke-width="1.1" stroke-dasharray="1.1 2.2"/>
</g>
<rect x="498.3" y="370.5" width="144.7" height="130.5" fill="none" stroke="#1e1e1e" stroke-width="1.1"/>
<line x1="498.3" y1="501" x2="498.3" y2="498.4" stroke="#1e1e1e" stroke-width="0.9"/>
<line x1="527.24" y1="501" x2="527.24" y2="498.4" stroke="#1e1e1e" stroke-width="0.9"/>
<line x1="556.18" y1="501" x2="556.18" y2="498.4" stroke="#1e1e1e" stroke-width="0.9"/>
<line x1="585.12" y1="501" x2="585.12" y2="498.4" stroke="#1e1e1e" stroke-width="0.9"/>
<line x1="614.06" y1="501" x2="614.06" y2="498.4" stroke="#1e1e1e" stroke-width="0.9"/>
<line x1="643" y1="501" x2="643" y2="498.4" stroke="#1e1e1e" stroke-width="0.9"/>
<line x1="512.77" y1="501" x2="512.77" y2="499.4" stroke="#1e1e1e" stroke-width="0.9"/>
<line x1="541.71" y1="501" x2="541.71" y2="499.4" stroke="#1e1e1e" stroke-width="0.9"/>
<line x1="570.65" y1="501" x2="570.65" y2="499.4" stroke="#1e1e1e" stroke-width="0.9"/>
<line x1="599.59" y1="501" x2="599.59" y2="499.4" stroke="#1e1e1e" stroke-width="0.9"/>
<line x1="628.53" y1="501" x2="628.53" y2="499.4" stroke="#1e1e1e" stroke-width="0.9"/>
<line x1="498.3" y1="501" x2="500.9" y2="501" stroke="#1e1e1e" stroke-width="0.9"/>
<line x1="498.3" y1="474.9" x2="500.9" y2="474.9" stroke="#1e1e1e" stroke-width="0.9"/>
<line x1="498.3" y1="448.8" x2="500.9" y2="448.8" stroke="#1e1e1e" stroke-width="0.9"/>
<line x1="498.3" y1="422.7" x2="500.9" y2="422.7" stroke="#1e1e1e" stroke-width="0.9"/>
<line x1="498.3" y1="396.6" x2="500.9" y2="396.6" stroke="#1e1e1e" stroke-width="0.9"/>
<line x1="498.3" y1="370.5" x2="500.9" y2="370.5" stroke="#1e1e1e" stroke-width="0.9"/>
<line x1="498.3" y1="487.95" x2="499.9" y2="487.95" stroke="#1e1e1e" stroke-width="0.9"/>
<line x1="498.3" y1="461.85" x2="499.9" y2="461.85" stroke="#1e1e1e" stroke-width="0.9"/>
<line x1="498.3" y1="435.75" x2="499.9" y2="435.75" stroke="#1e1e1e" stroke-width="0.9"/>
<line x1="498.3" y1="409.65" x2="499.9" y2="409.65" stroke="#1e1e1e" stroke-width="0.9"/>
<line x1="498.3" y1="383.55" x2="499.9" y2="383.55" stroke="#1e1e1e" stroke-width="0.9"/>
<text x="494.1" y="505.3" font-size="10.8" text-anchor="end" fill="#111">0</text>
<text x="494.1" y="479.2" font-size="10.8" text-anchor="end" fill="#111">1</text>
<text x="494.1" y="453.1" font-size="10.8" text-anchor="end" fill="#111">2</text>
<text x="494.1" y="427" font-size="10.8" text-anchor="end" fill="#111">3</text>
<text x="494.1" y="400.9" font-size="10.8" text-anchor="end" fill="#111">4</text>
<text x="494.1" y="374.8" font-size="10.8" text-anchor="end" fill="#111">5</text>
<text x="498.3" y="512.6" font-size="10.8" text-anchor="middle" fill="#111">0</text>
<text x="527.24" y="512.6" font-size="10.8" text-anchor="middle" fill="#111">2</text>
<text x="556.18" y="512.6" font-size="10.8" text-anchor="middle" fill="#111">4</text>
<text x="585.12" y="512.6" font-size="10.8" text-anchor="middle" fill="#111">6</text>
<text x="614.06" y="512.6" font-size="10.8" text-anchor="middle" fill="#111">8</text>
<text x="643" y="512.6" font-size="10.8" text-anchor="middle" fill="#111">10</text>
<text x="571" y="527.3" font-size="10.8" text-anchor="middle" fill="#111">Heating voltage (V)</text>
<text x="479.2" y="435.7" font-size="10.3" text-anchor="middle" fill="#111" transform="rotate(-90 479.2 435.7)">Fv (m/s)</text>
<defs><linearGradient id="cbg" x1="0" y1="0" x2="0" y2="1"><stop offset="0" stop-color="#f1686a"/><stop offset="0.12" stop-color="#f48e8f"/><stop offset="0.25" stop-color="#f8b4b4"/><stop offset="0.38" stop-color="#fcd9da"/><stop offset="0.5" stop-color="#ffffff"/><stop offset="0.62" stop-color="#f2f6fb"/><stop offset="0.75" stop-color="#e6eef6"/><stop offset="0.88" stop-color="#dae6f2"/><stop offset="1" stop-color="#cdddee"/></linearGradient></defs>
<rect x="647.5" y="378.5" width="11.8" height="2.5" fill="#fff"/>
<rect x="647.5" y="381" width="11.8" height="117.2" fill="url(#cbg)"/>
<rect x="647.5" y="498.2" width="11.8" height="2.4" fill="#000"/>
<rect x="647.5" y="378.5" width="11.8" height="122.1" fill="none" stroke="#888" stroke-width="0.7"/>
<line x1="659.3" y1="381" x2="661.1" y2="381" stroke="#555" stroke-width="0.8"/>
<text x="666.4" y="384.9" font-size="10.8" text-anchor="start" fill="#111">15</text>
<line x1="659.3" y1="395.65" x2="661.1" y2="395.65" stroke="#555" stroke-width="0.8"/>
<text x="666.4" y="399.55" font-size="10.8" text-anchor="start" fill="#111">13</text>
<line x1="659.3" y1="410.3" x2="661.1" y2="410.3" stroke="#555" stroke-width="0.8"/>
<text x="666.4" y="414.2" font-size="10.8" text-anchor="start" fill="#111">11</text>
<line x1="659.3" y1="424.95" x2="661.1" y2="424.95" stroke="#555" stroke-width="0.8"/>
<text x="666.4" y="428.85" font-size="10.8" text-anchor="start" fill="#111">9</text>
<line x1="659.3" y1="439.6" x2="661.1" y2="439.6" stroke="#555" stroke-width="0.8"/>
<text x="666.4" y="443.5" font-size="10.8" text-anchor="start" fill="#111">7</text>
<line x1="659.3" y1="454.25" x2="661.1" y2="454.25" stroke="#555" stroke-width="0.8"/>
<text x="666.4" y="458.15" font-size="10.8" text-anchor="start" fill="#111">5</text>
<line x1="659.3" y1="468.9" x2="661.1" y2="468.9" stroke="#555" stroke-width="0.8"/>
<text x="666.4" y="472.8" font-size="10.8" text-anchor="start" fill="#111">4</text>
<line x1="659.3" y1="483.55" x2="661.1" y2="483.55" stroke="#555" stroke-width="0.8"/>
<text x="666.4" y="487.45" font-size="10.8" text-anchor="start" fill="#111">2</text>
<line x1="659.3" y1="498.2" x2="661.1" y2="498.2" stroke="#555" stroke-width="0.8"/>
<text x="666.4" y="502.1" font-size="10.8" text-anchor="start" fill="#111">0</text>
<text x="646.6" y="372.1" font-size="10.8" text-anchor="start" fill="#111">Δv (m/s)</text>
</svg>
</body></html>
